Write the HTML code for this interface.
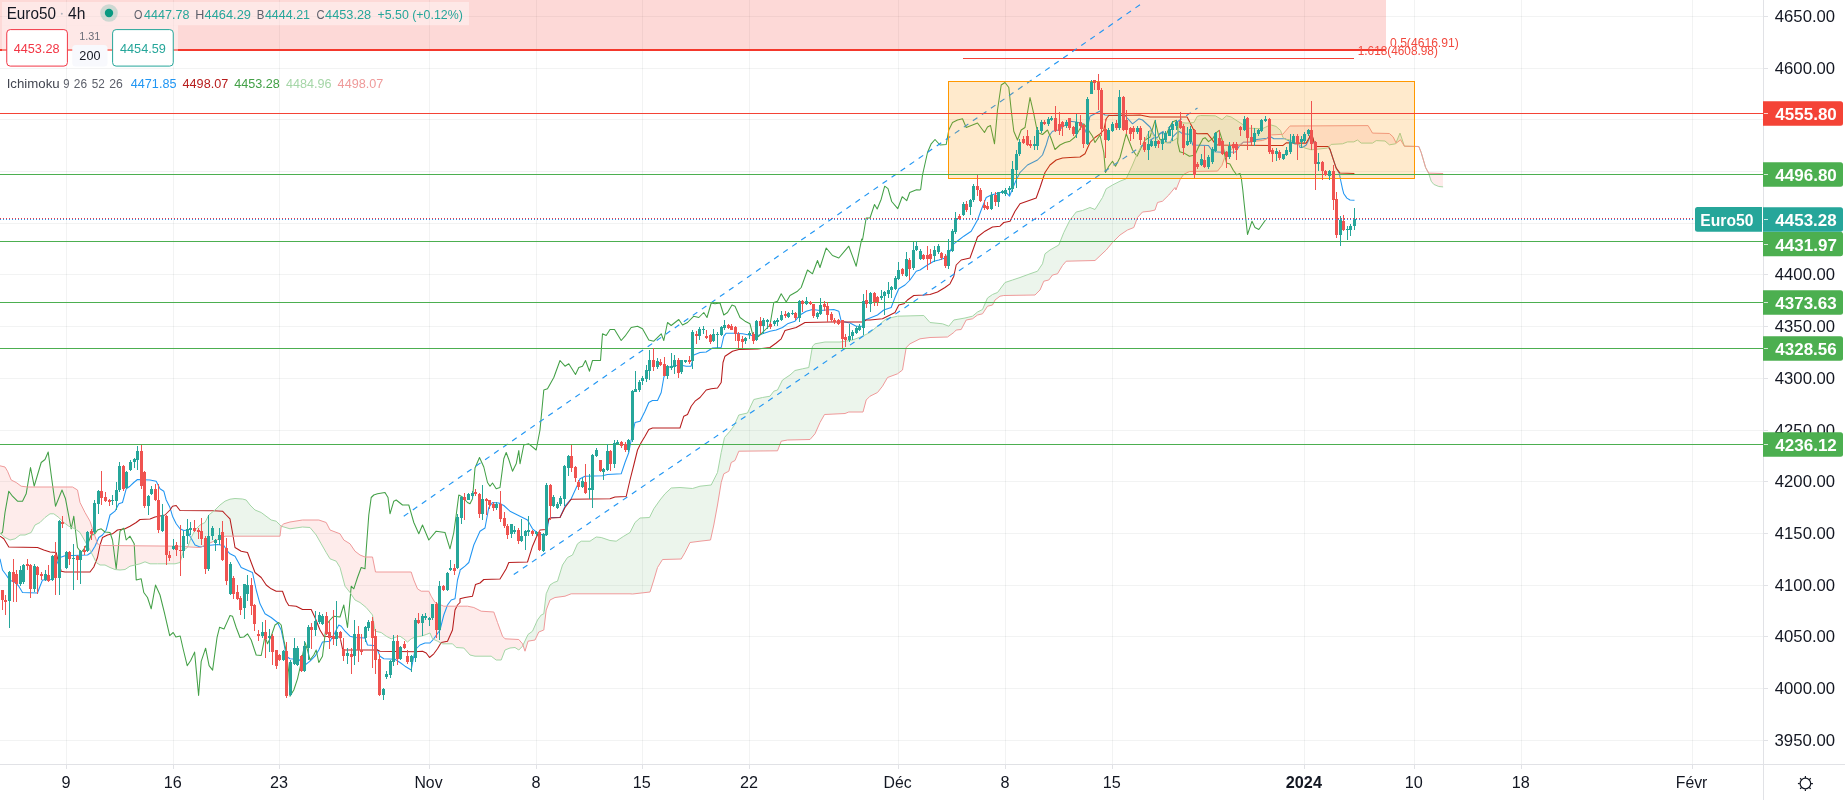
<!DOCTYPE html><html><head><meta charset="utf-8"><style>html,body{margin:0;padding:0;background:#fff}svg{display:block}</style></head><body><svg width="1845" height="800" viewBox="0 0 1845 800" font-family="'Liberation Sans', sans-serif" shape-rendering="auto" style="will-change:transform">
<rect width="1845" height="800" fill="#fff"/>
<rect x="66" y="0" width="1" height="764.5" fill="rgba(42,46,57,0.06)"/>
<rect x="173" y="0" width="1" height="764.5" fill="rgba(42,46,57,0.06)"/>
<rect x="279" y="0" width="1" height="764.5" fill="rgba(42,46,57,0.06)"/>
<rect x="429" y="0" width="1" height="764.5" fill="rgba(42,46,57,0.06)"/>
<rect x="536" y="0" width="1" height="764.5" fill="rgba(42,46,57,0.06)"/>
<rect x="642" y="0" width="1" height="764.5" fill="rgba(42,46,57,0.06)"/>
<rect x="749" y="0" width="1" height="764.5" fill="rgba(42,46,57,0.06)"/>
<rect x="898" y="0" width="1" height="764.5" fill="rgba(42,46,57,0.06)"/>
<rect x="1005" y="0" width="1" height="764.5" fill="rgba(42,46,57,0.06)"/>
<rect x="1112" y="0" width="1" height="764.5" fill="rgba(42,46,57,0.06)"/>
<rect x="1304" y="0" width="1" height="764.5" fill="rgba(42,46,57,0.06)"/>
<rect x="1414" y="0" width="1" height="764.5" fill="rgba(42,46,57,0.06)"/>
<rect x="1521" y="0" width="1" height="764.5" fill="rgba(42,46,57,0.06)"/>
<rect x="1692" y="0" width="1" height="764.5" fill="rgba(42,46,57,0.06)"/>
<rect x="0" y="740" width="1763.5" height="1" fill="rgba(42,46,57,0.06)"/>
<rect x="0" y="688" width="1763.5" height="1" fill="rgba(42,46,57,0.06)"/>
<rect x="0" y="636" width="1763.5" height="1" fill="rgba(42,46,57,0.06)"/>
<rect x="0" y="585" width="1763.5" height="1" fill="rgba(42,46,57,0.06)"/>
<rect x="0" y="533" width="1763.5" height="1" fill="rgba(42,46,57,0.06)"/>
<rect x="0" y="481" width="1763.5" height="1" fill="rgba(42,46,57,0.06)"/>
<rect x="0" y="430" width="1763.5" height="1" fill="rgba(42,46,57,0.06)"/>
<rect x="0" y="378" width="1763.5" height="1" fill="rgba(42,46,57,0.06)"/>
<rect x="0" y="326" width="1763.5" height="1" fill="rgba(42,46,57,0.06)"/>
<rect x="0" y="274" width="1763.5" height="1" fill="rgba(42,46,57,0.06)"/>
<rect x="0" y="223" width="1763.5" height="1" fill="rgba(42,46,57,0.06)"/>
<rect x="0" y="171" width="1763.5" height="1" fill="rgba(42,46,57,0.06)"/>
<rect x="0" y="119" width="1763.5" height="1" fill="rgba(42,46,57,0.06)"/>
<rect x="0" y="68" width="1763.5" height="1" fill="rgba(42,46,57,0.06)"/>
<rect x="0" y="16" width="1763.5" height="1" fill="rgba(42,46,57,0.06)"/>
<rect x="0" y="0" width="1386" height="49.5" fill="rgba(244,67,54,0.2)"/>
<rect x="0" y="49" width="1386" height="2" fill="#f4382c"/>
<rect x="963" y="58" width="391" height="1" fill="#f44336"/>
<text x="1357.71" y="54.90" font-size="12.2" fill="#f2493e" font-weight="normal" textLength="80.14" lengthAdjust="spacingAndGlyphs">1.618(4608.98)</text>
<text x="1390.02" y="46.70" font-size="12.2" fill="#f2493e" font-weight="normal" textLength="68.76" lengthAdjust="spacingAndGlyphs">0.5(4616.91)</text>
<path d="M0.0 533.2 L1.0 534.1 L2.0 535.0 L3.0 535.8 L4.0 536.6 L5.0 537.5 L6.0 538.0 L7.0 538.5 L8.0 539.0 L9.0 539.5 L10.0 540.0 L11.0 539.8 L12.0 539.5 L13.0 539.2 L14.0 539.0 L15.0 538.8 L16.0 538.0 L17.0 537.2 L18.0 536.5 L19.0 535.8 L20.0 535.0 L21.0 535.0 L22.0 535.0 L23.0 535.0 L24.0 535.0 L25.0 535.0 L26.0 534.6 L27.0 534.2 L28.0 533.8 L29.0 533.4 L30.0 533.0 L31.0 532.6 L32.0 531.0 L33.0 529.0 L34.0 527.0 L35.0 525.0 L36.0 524.5 L37.0 524.0 L38.0 523.5 L39.0 523.0 L40.0 522.5 L41.0 521.5 L42.0 520.5 L43.0 519.5 L44.0 518.5 L45.0 517.5 L46.0 516.8 L47.0 516.0 L48.0 515.2 L49.0 514.5 L50.0 513.8 L51.0 513.8 L52.0 513.8 L53.0 513.8 L54.0 513.9 L55.0 514.7 L56.0 515.4 L57.0 516.2 L58.0 516.9 L59.0 517.8 L60.0 518.8 L61.0 519.8 L62.0 520.8 L63.0 521.8 L64.0 522.7 L65.0 523.4 L66.0 524.2 L67.0 524.9 L68.0 525.7 L69.0 526.4 L70.0 526.8 L71.0 527.1 L72.0 527.5 L73.0 528.0 L74.0 528.4 L75.0 528.8 L76.0 529.5 L77.0 530.2 L78.0 531.0 L79.0 531.8 L80.0 532.5 L81.0 534.2 L82.0 536.0 L83.0 537.8 L84.0 539.5 L85.0 541.2 L86.0 543.0 L87.0 544.8 L88.0 546.5 L89.0 548.2 L90.0 550.0 L91.0 552.0 L92.0 554.0 L93.0 556.0 L94.0 558.0 L95.0 560.0 L96.0 562.0 L97.0 563.0 L98.0 563.7 L99.0 564.3 L100.0 565.0 L101.0 565.0 L102.0 565.0 L103.0 565.0 L104.0 565.0 L105.0 565.0 L106.0 565.5 L107.0 566.0 L108.0 566.5 L109.0 567.0 L110.0 567.5 L111.0 567.9 L112.0 568.3 L113.0 568.7 L114.0 569.1 L115.0 569.5 L116.0 569.6 L117.0 569.7 L118.0 569.8 L119.0 569.9 L120.0 570.0 L121.0 569.9 L122.0 569.8 L123.0 569.7 L124.0 569.6 L125.0 569.5 L126.0 568.9 L127.0 568.2 L128.0 567.5 L129.0 566.9 L130.0 566.2 L131.0 566.0 L132.0 565.8 L133.0 565.5 L134.0 565.2 L135.0 565.0 L136.0 564.8 L137.0 564.5 L138.0 564.2 L139.0 564.0 L140.0 563.8 L141.0 563.4 L142.0 563.0 L143.0 562.5 L144.0 562.1 L145.0 561.8 L146.0 562.1 L147.0 562.5 L148.0 563.0 L149.0 563.4 L150.0 563.8 L151.0 563.8 L152.0 563.8 L153.0 563.8 L154.0 563.8 L155.0 563.8 L156.0 563.8 L157.0 563.8 L158.0 563.8 L159.0 563.8 L160.0 563.8 L161.0 563.8 L162.0 563.8 L163.0 563.8 L164.0 563.8 L165.0 563.8 L166.0 563.8 L167.0 563.8 L168.0 563.8 L169.0 563.8 L170.0 563.8 L171.0 563.8 L172.0 563.8 L173.0 563.8 L174.0 563.8 L175.0 563.8 L176.0 563.5 L177.0 563.2 L178.0 563.0 L179.0 562.8 L180.0 562.5 L181.0 559.2 L182.0 555.8 L183.0 552.5 L184.0 549.8 L185.0 549.2 L186.0 548.5 L187.0 547.8 L188.0 546.2 L188.0 546.9 L187.0 546.8 L186.0 546.7 L185.0 546.6 L184.0 546.5 L183.0 546.5 L182.0 546.4 L181.0 546.3 L180.0 546.2 L179.0 546.2 L178.0 546.2 L177.0 546.2 L176.0 546.2 L175.0 546.2 L174.0 546.2 L173.0 546.2 L172.0 546.2 L171.0 546.2 L170.0 546.2 L169.0 546.1 L168.0 546.1 L167.0 546.1 L166.0 546.1 L165.0 546.1 L164.0 546.1 L163.0 546.1 L162.0 546.1 L161.0 546.1 L160.0 546.1 L159.0 546.0 L158.0 546.0 L157.0 546.0 L156.0 546.0 L155.0 546.0 L154.0 546.0 L153.0 546.0 L152.0 546.0 L151.0 546.0 L150.0 546.0 L149.0 546.0 L148.0 545.9 L147.0 545.9 L146.0 545.9 L145.0 545.9 L144.0 545.9 L143.0 545.9 L142.0 545.9 L141.0 545.9 L140.0 545.9 L139.0 545.9 L138.0 545.8 L137.0 545.8 L136.0 545.8 L135.0 545.8 L134.0 545.8 L133.0 545.8 L132.0 545.8 L131.0 545.8 L130.0 545.8 L129.0 545.8 L128.0 545.7 L127.0 545.7 L126.0 545.7 L125.0 545.7 L124.0 545.7 L123.0 545.7 L122.0 545.7 L121.0 545.7 L120.0 545.7 L119.0 545.7 L118.0 545.6 L117.0 545.6 L116.0 545.6 L115.0 545.6 L114.0 545.6 L113.0 545.6 L112.0 545.6 L111.0 545.6 L110.0 545.6 L109.0 545.6 L108.0 545.6 L107.0 545.5 L106.0 545.5 L105.0 545.5 L104.0 545.5 L103.0 545.5 L102.0 545.3 L101.0 545.0 L100.0 544.6 L99.0 544.3 L98.0 543.9 L97.0 542.2 L96.0 539.2 L95.0 536.2 L94.0 533.2 L93.0 530.2 L92.0 527.2 L91.0 524.2 L90.0 521.2 L89.0 519.5 L88.0 517.8 L87.0 516.0 L86.0 514.2 L85.0 512.5 L84.0 510.5 L83.0 508.5 L82.0 506.5 L81.0 504.5 L80.0 502.5 L79.0 497.5 L78.0 492.5 L77.0 489.7 L76.0 489.1 L75.0 488.5 L74.0 487.9 L73.0 487.3 L72.0 487.0 L71.0 487.0 L70.0 487.0 L69.0 487.0 L68.0 487.0 L67.0 487.0 L66.0 487.0 L65.0 487.0 L64.0 487.0 L63.0 487.0 L62.0 487.0 L61.0 487.0 L60.0 487.0 L59.0 487.0 L58.0 487.0 L57.0 487.0 L56.0 487.0 L55.0 487.0 L54.0 487.0 L53.0 487.0 L52.0 487.0 L51.0 487.0 L50.0 487.0 L49.0 487.0 L48.0 487.0 L47.0 487.0 L46.0 487.0 L45.0 487.0 L44.0 487.0 L43.0 487.0 L42.0 487.0 L41.0 487.0 L40.0 487.0 L39.0 487.0 L38.0 487.0 L37.0 487.0 L36.0 487.0 L35.0 487.0 L34.0 487.0 L33.0 487.0 L32.0 487.0 L31.0 487.0 L30.0 487.0 L29.0 487.0 L28.0 487.0 L27.0 486.9 L26.0 486.8 L25.0 486.7 L24.0 486.6 L23.0 486.5 L22.0 486.3 L21.0 486.1 L20.0 485.3 L19.0 484.6 L18.0 483.8 L17.0 483.1 L16.0 482.4 L15.0 481.9 L14.0 481.4 L13.0 480.9 L12.0 480.4 L11.0 479.4 L10.0 477.1 L9.0 474.8 L8.0 472.4 L7.0 470.4 L6.0 468.7 L5.0 467.0 L4.0 466.8 L3.0 466.5 L2.0 466.2 L1.0 466.0 L0.0 465.8Z" fill="rgba(244,67,54,0.10)"/>
<path d="M188.0 546.2 L189.0 543.5 L190.0 540.8 L191.0 538.2 L192.0 536.0 L193.0 534.0 L194.0 532.0 L195.0 530.0 L196.0 529.0 L197.0 528.0 L198.0 527.0 L199.0 526.0 L200.0 525.0 L201.0 524.5 L202.0 524.0 L203.0 523.5 L204.0 523.0 L205.0 522.5 L206.0 520.5 L207.0 518.5 L208.0 516.5 L209.0 514.8 L210.0 514.0 L211.0 513.2 L212.0 512.4 L213.0 511.6 L214.0 510.8 L215.0 510.0 L216.0 509.0 L217.0 508.0 L218.0 507.0 L219.0 506.0 L220.0 505.0 L221.0 504.2 L222.0 503.5 L223.0 502.8 L224.0 502.0 L225.0 501.2 L226.0 500.9 L227.0 500.4 L228.0 500.1 L229.0 499.6 L230.0 499.2 L231.0 499.1 L232.0 498.9 L233.0 498.8 L234.0 498.6 L235.0 498.5 L236.0 498.6 L237.0 498.6 L238.0 498.7 L239.0 498.8 L240.0 498.8 L241.0 498.9 L242.0 499.0 L243.0 499.1 L244.0 499.4 L245.0 499.7 L246.0 499.9 L247.0 501.0 L248.0 502.3 L249.0 503.7 L250.0 505.0 L251.0 506.0 L252.0 507.0 L253.0 508.0 L254.0 509.0 L255.0 510.0 L256.0 510.4 L257.0 510.8 L258.0 511.2 L259.0 511.6 L260.0 512.0 L261.0 512.4 L262.0 513.1 L263.0 513.8 L264.0 514.6 L265.0 515.3 L266.0 516.1 L267.0 516.8 L268.0 517.6 L269.0 518.3 L270.0 519.1 L271.0 519.8 L272.0 520.2 L273.0 520.4 L274.0 520.7 L275.0 520.9 L276.0 521.2 L277.0 522.0 L278.0 523.0 L279.0 524.0 L280.0 525.0 L281.0 526.0 L282.0 526.5 L282.0 525.5 L281.0 528.2 L280.0 536.2 L279.0 536.2 L278.0 536.2 L277.0 536.2 L276.0 536.2 L275.0 536.2 L274.0 536.2 L273.0 536.2 L272.0 536.2 L271.0 536.2 L270.0 536.2 L269.0 536.2 L268.0 536.2 L267.0 536.2 L266.0 536.2 L265.0 536.2 L264.0 536.2 L263.0 536.2 L262.0 536.2 L261.0 536.2 L260.0 536.2 L259.0 536.2 L258.0 536.2 L257.0 536.2 L256.0 536.2 L255.0 536.2 L254.0 536.2 L253.0 536.2 L252.0 536.2 L251.0 536.2 L250.0 536.2 L249.0 536.2 L248.0 536.2 L247.0 536.2 L246.0 536.2 L245.0 536.2 L244.0 536.2 L243.0 536.2 L242.0 536.2 L241.0 536.2 L240.0 536.2 L239.0 536.2 L238.0 536.2 L237.0 536.2 L236.0 536.2 L235.0 536.2 L234.0 536.2 L233.0 536.2 L232.0 536.2 L231.0 536.2 L230.0 536.2 L229.0 536.2 L228.0 536.2 L227.0 536.2 L226.0 536.2 L225.0 536.2 L224.0 536.7 L223.0 537.1 L222.0 537.6 L221.0 538.0 L220.0 538.5 L219.0 539.0 L218.0 539.4 L217.0 539.9 L216.0 540.3 L215.0 540.8 L214.0 541.2 L213.0 541.6 L212.0 542.1 L211.0 542.5 L210.0 543.0 L209.0 543.5 L208.0 543.9 L207.0 544.4 L206.0 544.8 L205.0 545.2 L204.0 545.7 L203.0 546.1 L202.0 546.6 L201.0 547.0 L200.0 547.5 L199.0 547.5 L198.0 547.4 L197.0 547.4 L196.0 547.3 L195.0 547.2 L194.0 547.2 L193.0 547.1 L192.0 547.1 L191.0 547.0 L190.0 547.0 L189.0 546.9 L188.0 546.9Z" fill="rgba(67,160,71,0.10)"/>
<path d="M282.0 526.5 L283.0 526.8 L284.0 527.0 L285.0 527.3 L286.0 527.6 L287.0 527.9 L288.0 528.2 L289.0 528.5 L290.0 528.8 L291.0 528.6 L292.0 528.5 L293.0 528.3 L294.0 528.2 L295.0 528.0 L296.0 527.9 L297.0 527.8 L298.0 527.6 L299.0 527.5 L300.0 527.4 L301.0 527.2 L302.0 527.1 L303.0 527.0 L304.0 527.1 L305.0 527.2 L306.0 527.2 L307.0 527.3 L308.0 527.4 L309.0 527.4 L310.0 527.5 L311.0 528.7 L312.0 529.9 L313.0 531.1 L314.0 532.3 L315.0 533.5 L316.0 534.7 L317.0 536.3 L318.0 538.1 L319.0 539.8 L320.0 541.6 L321.0 543.3 L322.0 545.1 L323.0 546.8 L324.0 548.6 L325.0 550.3 L326.0 552.1 L327.0 553.8 L328.0 555.4 L329.0 557.1 L330.0 558.8 L331.0 559.1 L332.0 559.5 L333.0 560.0 L334.0 560.4 L335.0 560.8 L336.0 561.1 L337.0 562.5 L338.0 564.2 L339.0 565.8 L340.0 567.5 L341.0 571.2 L342.0 575.0 L343.0 578.8 L344.0 582.5 L345.0 586.2 L346.0 587.5 L347.0 588.8 L348.0 590.0 L349.0 591.2 L350.0 592.5 L351.0 594.0 L352.0 595.5 L353.0 597.0 L354.0 598.5 L355.0 600.0 L356.0 600.5 L357.0 601.0 L358.0 601.5 L359.0 602.0 L360.0 602.5 L361.0 603.3 L362.0 604.1 L363.0 604.9 L364.0 605.7 L365.0 606.5 L366.0 607.3 L367.0 608.4 L368.0 609.6 L369.0 610.8 L370.0 612.0 L371.0 613.2 L372.0 614.4 L373.0 618.2 L374.0 624.8 L375.0 631.2 L376.0 631.5 L377.0 631.6 L378.0 631.9 L379.0 632.0 L380.0 632.2 L381.0 632.5 L382.0 633.1 L383.0 633.8 L384.0 634.6 L385.0 635.3 L386.0 636.1 L387.0 636.6 L388.0 637.1 L389.0 637.6 L390.0 638.1 L391.0 638.6 L392.0 638.5 L393.0 638.1 L394.0 637.8 L395.0 637.4 L396.0 637.1 L397.0 636.9 L398.0 636.6 L399.0 636.5 L400.0 636.2 L401.0 636.9 L402.0 637.6 L403.0 638.2 L404.0 639.0 L405.0 639.8 L406.0 640.7 L407.0 641.6 L408.0 641.6 L409.0 640.7 L410.0 639.8 L411.0 639.0 L412.0 638.4 L413.0 637.9 L414.0 637.5 L415.0 637.0 L416.0 636.9 L417.0 636.8 L418.0 636.6 L419.0 636.5 L420.0 636.4 L421.0 636.3 L422.0 636.0 L423.0 635.6 L424.0 635.3 L425.0 634.9 L426.0 634.6 L427.0 634.2 L428.0 633.8 L429.0 633.4 L430.0 633.0 L431.0 635.3 L432.0 637.6 L433.0 639.0 L434.0 639.5 L435.0 640.0 L436.0 640.5 L437.0 641.0 L438.0 641.5 L439.0 642.0 L440.0 642.5 L441.0 643.0 L442.0 643.5 L443.0 643.8 L444.0 643.8 L445.0 643.8 L446.0 643.8 L447.0 643.8 L448.0 643.8 L449.0 643.8 L450.0 643.8 L451.0 643.8 L452.0 643.8 L453.0 644.2 L454.0 645.2 L455.0 646.2 L456.0 647.2 L457.0 647.5 L458.0 647.6 L459.0 647.7 L460.0 647.8 L461.0 647.8 L462.0 647.9 L463.0 648.0 L464.0 648.3 L465.0 649.4 L466.0 650.5 L467.0 651.6 L468.0 652.8 L469.0 653.9 L470.0 655.0 L471.0 655.2 L472.0 655.5 L473.0 655.8 L474.0 656.0 L475.0 656.2 L476.0 656.2 L477.0 656.2 L478.0 656.2 L479.0 656.2 L480.0 656.2 L481.0 656.2 L482.0 656.2 L483.0 656.2 L484.0 656.2 L485.0 656.2 L486.0 656.2 L487.0 656.2 L488.0 656.2 L489.0 656.2 L490.0 656.2 L491.0 656.2 L492.0 656.8 L493.0 657.6 L494.0 658.3 L495.0 659.1 L496.0 659.8 L497.0 660.0 L498.0 660.0 L499.0 660.0 L500.0 660.0 L501.0 660.0 L502.0 658.0 L503.0 655.3 L504.0 652.7 L505.0 650.0 L506.0 649.6 L507.0 649.2 L508.0 648.8 L509.0 648.4 L510.0 648.0 L511.0 647.9 L512.0 647.8 L513.0 647.7 L514.0 647.6 L515.0 647.5 L516.0 648.2 L517.0 648.8 L518.0 649.5 L519.0 649.8 L520.0 648.8 L521.0 647.8 L522.0 646.8 L523.0 645.2 L524.0 643.0 L524.0 648.2 L523.0 645.2 L522.0 643.2 L521.0 642.0 L520.0 640.9 L519.0 639.8 L518.0 639.5 L517.0 639.4 L516.0 639.4 L515.0 639.3 L514.0 639.2 L513.0 639.2 L512.0 639.1 L511.0 639.1 L510.0 639.0 L509.0 639.0 L508.0 638.9 L507.0 638.9 L506.0 638.8 L505.0 638.8 L504.0 637.8 L503.0 636.8 L502.0 634.9 L501.0 632.1 L500.0 629.4 L499.0 626.6 L498.0 623.9 L497.0 621.1 L496.0 618.3 L495.0 615.5 L494.0 612.7 L493.0 612.0 L492.0 611.9 L491.0 611.8 L490.0 611.8 L489.0 611.7 L488.0 611.7 L487.0 611.6 L486.0 611.5 L485.0 611.5 L484.0 611.4 L483.0 611.4 L482.0 611.3 L481.0 611.1 L480.0 610.6 L479.0 610.1 L478.0 609.6 L477.0 609.1 L476.0 608.6 L475.0 608.1 L474.0 607.6 L473.0 607.4 L472.0 607.1 L471.0 607.0 L470.0 606.8 L469.0 606.5 L468.0 606.4 L467.0 606.2 L466.0 606.2 L465.0 606.2 L464.0 606.2 L463.0 606.2 L462.0 606.2 L461.0 606.2 L460.0 606.2 L459.0 606.2 L458.0 606.2 L457.0 606.2 L456.0 606.2 L455.0 606.2 L454.0 606.2 L453.0 606.2 L452.0 606.2 L451.0 606.2 L450.0 606.2 L449.0 606.2 L448.0 606.2 L447.0 606.2 L446.0 606.2 L445.0 606.2 L444.0 606.2 L443.0 605.9 L442.0 605.5 L441.0 605.1 L440.0 604.6 L439.0 604.2 L438.0 603.8 L437.0 603.4 L436.0 602.9 L435.0 602.5 L434.0 600.8 L433.0 599.2 L432.0 597.5 L431.0 595.8 L430.0 593.8 L429.0 591.8 L428.0 591.2 L427.0 591.2 L426.0 591.2 L425.0 591.2 L424.0 591.2 L423.0 591.2 L422.0 591.2 L421.0 591.1 L420.0 590.4 L419.0 589.8 L418.0 589.1 L417.0 587.6 L416.0 585.2 L415.0 582.9 L414.0 580.6 L413.0 577.6 L412.0 574.4 L411.0 572.0 L410.0 572.0 L409.0 572.0 L408.0 572.0 L407.0 572.0 L406.0 572.0 L405.0 572.0 L404.0 572.0 L403.0 572.0 L402.0 572.0 L401.0 572.0 L400.0 572.0 L399.0 572.0 L398.0 572.0 L397.0 572.0 L396.0 572.0 L395.0 572.0 L394.0 572.0 L393.0 572.0 L392.0 572.0 L391.0 572.0 L390.0 572.0 L389.0 572.0 L388.0 572.0 L387.0 572.0 L386.0 572.0 L385.0 572.0 L384.0 572.0 L383.0 572.0 L382.0 572.0 L381.0 572.0 L380.0 572.0 L379.0 572.0 L378.0 572.0 L377.0 572.0 L376.0 572.0 L375.0 569.5 L374.0 564.5 L373.0 559.5 L372.0 557.0 L371.0 557.0 L370.0 557.0 L369.0 557.0 L368.0 557.0 L367.0 557.0 L366.0 557.0 L365.0 557.0 L364.0 556.6 L363.0 556.2 L362.0 555.8 L361.0 555.4 L360.0 555.0 L359.0 554.2 L358.0 553.5 L357.0 552.8 L356.0 552.0 L355.0 551.2 L354.0 549.8 L353.0 548.2 L352.0 546.8 L351.0 545.2 L350.0 543.8 L349.0 543.1 L348.0 542.5 L347.0 542.0 L346.0 541.4 L345.0 540.8 L344.0 540.1 L343.0 538.8 L342.0 537.1 L341.0 535.4 L340.0 533.8 L339.0 533.4 L338.0 533.0 L337.0 532.6 L336.0 532.2 L335.0 531.9 L334.0 531.5 L333.0 531.1 L332.0 530.8 L331.0 530.4 L330.0 530.0 L329.0 528.0 L328.0 526.0 L327.0 524.0 L326.0 522.4 L325.0 522.1 L324.0 521.8 L323.0 521.4 L322.0 521.1 L321.0 520.8 L320.0 520.4 L319.0 520.1 L318.0 520.0 L317.0 520.0 L316.0 520.0 L315.0 520.0 L314.0 520.0 L313.0 520.0 L312.0 520.0 L311.0 520.0 L310.0 520.0 L309.0 520.0 L308.0 520.0 L307.0 520.0 L306.0 520.0 L305.0 520.0 L304.0 520.0 L303.0 520.0 L302.0 520.1 L301.0 520.2 L300.0 520.4 L299.0 520.6 L298.0 520.7 L297.0 520.9 L296.0 521.0 L295.0 521.2 L294.0 521.4 L293.0 521.5 L292.0 521.7 L291.0 521.8 L290.0 522.0 L289.0 522.3 L288.0 522.6 L287.0 522.8 L286.0 523.1 L285.0 523.4 L284.0 523.7 L283.0 524.5 L282.0 525.5Z" fill="rgba(244,67,54,0.10)"/>
<path d="M524.0 643.0 L525.0 640.9 L526.0 638.8 L527.0 636.6 L528.0 634.5 L529.0 633.8 L530.0 633.1 L531.0 632.3 L532.0 631.6 L533.0 630.1 L534.0 627.9 L535.0 625.6 L536.0 623.4 L537.0 621.1 L538.0 619.3 L539.0 618.0 L540.0 616.7 L541.0 615.3 L542.0 614.6 L543.0 614.1 L544.0 611.8 L545.0 603.8 L546.0 595.8 L547.0 592.0 L548.0 589.7 L549.0 587.3 L550.0 585.0 L551.0 584.3 L552.0 583.7 L553.0 583.0 L554.0 582.4 L555.0 582.1 L556.0 581.8 L557.0 581.4 L558.0 579.6 L559.0 576.4 L560.0 573.1 L561.0 569.9 L562.0 566.6 L563.0 564.2 L564.0 562.8 L565.0 561.2 L566.0 559.8 L567.0 558.2 L568.0 557.2 L569.0 556.8 L570.0 556.2 L571.0 555.8 L572.0 555.2 L573.0 553.9 L574.0 551.6 L575.0 549.4 L576.0 547.1 L577.0 544.9 L578.0 543.4 L579.0 542.8 L580.0 542.1 L581.0 541.4 L582.0 541.2 L583.0 541.2 L584.0 541.2 L585.0 541.2 L586.0 541.2 L587.0 541.2 L588.0 541.2 L589.0 541.2 L590.0 541.2 L591.0 540.6 L592.0 539.9 L593.0 539.2 L594.0 538.5 L595.0 537.9 L596.0 537.2 L597.0 537.1 L598.0 537.2 L599.0 537.3 L600.0 537.4 L601.0 537.5 L602.0 537.8 L603.0 538.1 L604.0 538.4 L605.0 538.8 L606.0 539.1 L607.0 539.5 L608.0 539.8 L609.0 540.2 L610.0 540.5 L611.0 540.6 L612.0 540.7 L613.0 540.9 L614.0 541.0 L615.0 541.1 L616.0 541.2 L617.0 540.8 L618.0 540.1 L619.0 539.4 L620.0 538.8 L621.0 538.1 L622.0 537.4 L623.0 536.8 L624.0 536.1 L625.0 535.5 L626.0 534.9 L627.0 534.3 L628.0 533.7 L629.0 533.1 L630.0 532.5 L631.0 530.5 L632.0 528.5 L633.0 526.5 L634.0 524.5 L635.0 522.5 L636.0 521.6 L637.0 520.7 L638.0 519.8 L639.0 518.9 L640.0 518.0 L641.0 517.9 L642.0 517.9 L643.0 517.8 L644.0 517.8 L645.0 517.7 L646.0 517.7 L647.0 517.6 L648.0 517.6 L649.0 517.5 L650.0 516.5 L651.0 514.4 L652.0 512.4 L653.0 510.3 L654.0 508.4 L655.0 507.0 L656.0 505.6 L657.0 504.2 L658.0 502.8 L659.0 501.4 L660.0 500.0 L661.0 498.8 L662.0 497.5 L663.0 496.2 L664.0 495.0 L665.0 493.8 L666.0 492.8 L667.0 491.9 L668.0 491.0 L669.0 490.1 L670.0 489.1 L671.0 488.2 L672.0 488.0 L673.0 487.9 L674.0 487.8 L675.0 487.8 L676.0 487.7 L677.0 487.7 L678.0 487.6 L679.0 487.6 L680.0 487.5 L681.0 487.6 L682.0 487.7 L683.0 487.7 L684.0 487.8 L685.0 487.9 L686.0 488.0 L687.0 488.1 L688.0 488.1 L689.0 488.2 L690.0 488.3 L691.0 488.4 L692.0 488.5 L693.0 488.4 L694.0 488.1 L695.0 487.8 L696.0 487.4 L697.0 487.1 L698.0 486.9 L699.0 486.6 L700.0 486.2 L701.0 486.1 L702.0 486.0 L703.0 485.9 L704.0 485.8 L705.0 485.7 L706.0 485.6 L707.0 485.5 L708.0 485.4 L709.0 485.2 L710.0 485.1 L711.0 485.0 L712.0 483.5 L713.0 481.5 L714.0 479.5 L715.0 477.5 L716.0 475.5 L717.0 473.5 L718.0 469.8 L719.0 464.5 L720.0 459.2 L721.0 453.8 L722.0 449.0 L723.0 444.4 L724.0 439.8 L725.0 436.9 L726.0 435.8 L727.0 434.7 L728.0 433.5 L729.0 432.4 L730.0 431.2 L731.0 429.9 L732.0 428.6 L733.0 427.2 L734.0 425.7 L735.0 423.4 L736.0 421.2 L737.0 418.9 L738.0 416.7 L739.0 414.9 L740.0 414.7 L741.0 414.5 L742.0 414.3 L743.0 414.0 L744.0 413.8 L745.0 413.6 L746.0 413.3 L747.0 413.1 L748.0 411.9 L749.0 409.8 L750.0 407.6 L751.0 405.4 L752.0 403.3 L753.0 401.1 L754.0 399.4 L755.0 399.2 L756.0 399.0 L757.0 398.8 L758.0 398.5 L759.0 398.3 L760.0 398.1 L761.0 397.8 L762.0 397.6 L763.0 397.4 L764.0 397.2 L765.0 397.1 L766.0 396.9 L767.0 396.8 L768.0 396.6 L769.0 396.4 L770.0 396.2 L771.0 394.9 L772.0 393.6 L773.0 392.2 L774.0 391.2 L775.0 390.8 L776.0 390.5 L777.0 390.2 L778.0 389.0 L779.0 387.0 L780.0 385.0 L781.0 383.0 L782.0 381.0 L783.0 379.7 L784.0 379.0 L785.0 378.3 L786.0 377.7 L787.0 377.0 L788.0 376.3 L789.0 375.7 L790.0 375.0 L791.0 374.1 L792.0 373.2 L793.0 372.3 L794.0 371.4 L795.0 370.5 L796.0 370.3 L797.0 370.0 L798.0 369.8 L799.0 369.6 L800.0 369.3 L801.0 369.1 L802.0 368.9 L803.0 368.6 L804.0 368.4 L805.0 368.2 L806.0 368.1 L807.0 367.9 L808.0 367.6 L809.0 366.1 L810.0 360.4 L811.0 354.8 L812.0 349.1 L813.0 345.8 L814.0 344.8 L815.0 343.8 L816.0 343.6 L817.0 343.4 L818.0 343.2 L819.0 343.1 L820.0 342.9 L821.0 342.7 L822.0 342.5 L823.0 342.4 L824.0 342.2 L825.0 342.0 L826.0 342.0 L827.0 342.0 L828.0 342.0 L829.0 342.0 L830.0 342.0 L831.0 342.0 L832.0 342.0 L833.0 342.0 L834.0 342.0 L835.0 342.0 L836.0 342.0 L837.0 342.0 L838.0 342.0 L839.0 342.0 L840.0 342.0 L841.0 341.8 L842.0 341.7 L843.0 341.5 L844.0 341.4 L845.0 341.2 L846.0 341.0 L847.0 340.9 L848.0 340.7 L849.0 340.6 L850.0 340.4 L851.0 340.2 L852.0 340.1 L853.0 339.8 L854.0 339.4 L855.0 339.1 L856.0 338.7 L857.0 338.3 L858.0 337.9 L859.0 337.6 L860.0 337.2 L861.0 336.8 L862.0 336.4 L863.0 336.0 L864.0 335.5 L865.0 335.0 L866.0 334.5 L867.0 334.0 L868.0 333.5 L869.0 333.0 L870.0 332.5 L871.0 331.7 L872.0 330.8 L873.0 330.0 L874.0 329.2 L875.0 328.3 L876.0 327.5 L877.0 326.7 L878.0 325.8 L879.0 325.0 L880.0 324.1 L881.0 323.2 L882.0 322.4 L883.0 321.5 L884.0 320.7 L885.0 319.8 L886.0 319.0 L887.0 318.6 L888.0 318.4 L889.0 318.1 L890.0 317.9 L891.0 317.7 L892.0 317.5 L893.0 317.2 L894.0 317.0 L895.0 316.8 L896.0 316.6 L897.0 316.4 L898.0 316.2 L899.0 316.2 L900.0 316.2 L901.0 316.1 L902.0 316.1 L903.0 316.1 L904.0 316.1 L905.0 316.0 L906.0 316.0 L907.0 316.0 L908.0 315.9 L909.0 315.9 L910.0 315.9 L911.0 315.9 L912.0 315.8 L913.0 315.8 L914.0 315.8 L915.0 315.8 L916.0 315.7 L917.0 315.7 L918.0 315.7 L919.0 315.6 L920.0 315.6 L921.0 315.6 L922.0 315.6 L923.0 315.5 L924.0 315.8 L925.0 316.9 L926.0 318.0 L927.0 319.1 L928.0 320.3 L929.0 321.4 L930.0 322.5 L931.0 322.6 L932.0 322.7 L933.0 322.8 L934.0 322.9 L935.0 323.0 L936.0 323.1 L937.0 323.2 L938.0 323.3 L939.0 323.4 L940.0 323.5 L941.0 323.6 L942.0 323.7 L943.0 323.9 L944.0 324.4 L945.0 324.8 L946.0 325.1 L947.0 325.6 L948.0 325.9 L949.0 325.9 L950.0 324.7 L951.0 323.4 L952.0 322.2 L953.0 320.9 L954.0 320.0 L955.0 319.8 L956.0 319.6 L957.0 319.4 L958.0 319.2 L959.0 319.1 L960.0 318.9 L961.0 318.7 L962.0 318.5 L963.0 318.4 L964.0 318.2 L965.0 318.0 L966.0 317.8 L967.0 317.5 L968.0 317.3 L969.0 317.1 L970.0 316.8 L971.0 316.6 L972.0 316.4 L973.0 315.8 L974.0 315.0 L975.0 314.1 L976.0 313.3 L977.0 312.4 L978.0 311.8 L979.0 311.2 L980.0 310.8 L981.0 310.2 L982.0 309.8 L983.0 308.4 L984.0 306.1 L985.0 303.8 L986.0 301.4 L987.0 299.1 L988.0 297.6 L989.0 296.9 L990.0 296.2 L991.0 295.6 L992.0 294.9 L993.0 294.3 L994.0 293.9 L995.0 293.5 L996.0 293.1 L997.0 292.7 L998.0 291.8 L999.0 290.5 L1000.0 289.2 L1001.0 287.8 L1002.0 286.5 L1003.0 285.2 L1004.0 283.8 L1005.0 282.5 L1006.0 282.2 L1007.0 281.8 L1008.0 281.5 L1009.0 281.2 L1010.0 280.8 L1011.0 280.5 L1012.0 280.2 L1013.0 279.8 L1014.0 279.5 L1015.0 279.2 L1016.0 278.8 L1017.0 278.5 L1018.0 278.2 L1019.0 277.8 L1020.0 277.5 L1021.0 277.1 L1022.0 276.8 L1023.0 276.4 L1024.0 276.0 L1025.0 275.6 L1026.0 275.2 L1027.0 274.9 L1028.0 274.5 L1029.0 274.1 L1030.0 273.8 L1031.0 273.4 L1032.0 273.1 L1033.0 272.8 L1034.0 272.4 L1035.0 272.1 L1036.0 271.8 L1037.0 271.4 L1038.0 270.5 L1039.0 269.0 L1040.0 267.5 L1041.0 266.0 L1042.0 264.5 L1043.0 261.8 L1044.0 257.8 L1045.0 253.8 L1046.0 253.0 L1047.0 252.2 L1048.0 251.5 L1049.0 250.8 L1050.0 250.0 L1051.0 249.4 L1052.0 248.9 L1053.0 248.3 L1054.0 247.7 L1055.0 247.1 L1056.0 246.6 L1057.0 246.0 L1058.0 245.4 L1059.0 244.4 L1060.0 241.9 L1061.0 239.4 L1062.0 236.9 L1063.0 234.4 L1064.0 232.0 L1065.0 230.0 L1066.0 228.0 L1067.0 226.0 L1068.0 224.0 L1069.0 222.0 L1070.0 220.0 L1071.0 218.7 L1072.0 217.4 L1073.0 216.2 L1074.0 214.9 L1075.0 213.6 L1076.0 212.3 L1077.0 211.8 L1078.0 211.6 L1079.0 211.3 L1080.0 211.1 L1081.0 210.9 L1082.0 210.6 L1083.0 210.3 L1084.0 209.9 L1085.0 209.5 L1086.0 209.1 L1087.0 208.7 L1088.0 208.3 L1089.0 207.9 L1090.0 207.5 L1091.0 207.9 L1092.0 208.3 L1093.0 208.7 L1094.0 209.1 L1095.0 209.5 L1096.0 207.9 L1097.0 206.3 L1098.0 204.7 L1099.0 203.1 L1100.0 201.5 L1101.0 199.9 L1102.0 198.3 L1103.0 196.3 L1104.0 194.0 L1105.0 191.7 L1106.0 189.3 L1107.0 188.3 L1108.0 187.7 L1109.0 187.1 L1110.0 186.5 L1111.0 185.9 L1112.0 185.3 L1113.0 184.8 L1114.0 184.2 L1115.0 183.8 L1116.0 183.2 L1117.0 182.8 L1118.0 182.2 L1119.0 181.8 L1120.0 181.2 L1121.0 180.8 L1122.0 180.4 L1123.0 180.1 L1124.0 179.7 L1125.0 179.2 L1126.0 178.8 L1127.0 177.1 L1128.0 174.9 L1129.0 172.7 L1130.0 170.5 L1131.0 168.3 L1132.0 166.1 L1133.0 163.8 L1134.0 161.5 L1135.0 159.2 L1136.0 156.8 L1137.0 154.8 L1138.0 152.8 L1139.0 150.8 L1140.0 148.8 L1141.0 147.0 L1142.0 145.2 L1143.0 143.5 L1144.0 141.8 L1145.0 140.0 L1146.0 138.0 L1147.0 136.0 L1148.0 134.0 L1149.0 132.0 L1150.0 130.0 L1151.0 131.6 L1152.0 133.2 L1153.0 134.8 L1154.0 136.3 L1155.0 137.6 L1156.0 138.4 L1157.0 139.2 L1158.0 140.1 L1159.0 140.9 L1160.0 141.8 L1161.0 141.9 L1162.0 142.0 L1163.0 142.1 L1164.0 142.2 L1165.0 142.3 L1166.0 142.4 L1167.0 142.5 L1168.0 142.2 L1169.0 142.0 L1170.0 141.7 L1171.0 141.5 L1172.0 141.2 L1173.0 140.8 L1174.0 140.1 L1175.0 139.5 L1176.0 138.9 L1177.0 138.3 L1178.0 132.3 L1179.0 122.5 L1180.0 122.6 L1181.0 122.7 L1182.0 122.7 L1183.0 122.8 L1184.0 122.9 L1185.0 122.9 L1186.0 123.0 L1187.0 123.1 L1188.0 123.0 L1189.0 122.9 L1190.0 122.8 L1191.0 122.7 L1192.0 122.7 L1193.0 122.6 L1194.0 122.3 L1195.0 120.5 L1196.0 118.6 L1197.0 116.8 L1198.0 116.1 L1199.0 115.9 L1200.0 115.7 L1201.0 115.5 L1202.0 115.5 L1203.0 115.6 L1204.0 115.6 L1205.0 115.6 L1206.0 115.6 L1207.0 115.6 L1208.0 115.6 L1209.0 115.7 L1210.0 115.7 L1211.0 115.7 L1212.0 115.7 L1213.0 115.7 L1214.0 115.7 L1215.0 115.7 L1216.0 116.2 L1217.0 116.8 L1218.0 117.3 L1219.0 117.9 L1220.0 118.5 L1221.0 119.1 L1222.0 119.7 L1223.0 118.8 L1224.0 118.0 L1225.0 117.1 L1226.0 116.2 L1227.0 115.9 L1228.0 116.1 L1229.0 116.4 L1230.0 116.6 L1231.0 116.9 L1232.0 117.5 L1233.0 118.2 L1234.0 118.8 L1235.0 119.5 L1236.0 120.1 L1237.0 120.8 L1238.0 121.4 L1239.0 122.1 L1240.0 122.7 L1241.0 123.4 L1242.0 124.0 L1243.0 125.0 L1244.0 126.2 L1245.0 127.4 L1246.0 128.1 L1247.0 128.2 L1248.0 128.2 L1249.0 128.2 L1250.0 128.3 L1251.0 128.3 L1252.0 128.3 L1253.0 128.4 L1254.0 128.4 L1255.0 128.4 L1256.0 128.5 L1257.0 128.5 L1258.0 128.5 L1259.0 128.6 L1260.0 128.6 L1261.0 128.6 L1262.0 128.7 L1263.0 128.5 L1264.0 128.0 L1265.0 127.5 L1266.0 127.0 L1267.0 126.5 L1268.0 126.0 L1269.0 125.5 L1270.0 125.0 L1271.0 124.9 L1272.0 125.2 L1273.0 125.5 L1274.0 125.8 L1275.0 126.1 L1276.0 126.4 L1277.0 127.3 L1278.0 128.2 L1279.0 129.0 L1280.0 129.9 L1281.0 131.8 L1282.0 134.8 L1282.0 134.4 L1281.0 134.4 L1280.0 134.5 L1279.0 134.5 L1278.0 134.6 L1277.0 134.6 L1276.0 134.7 L1275.0 134.7 L1274.0 134.8 L1273.0 134.8 L1272.0 134.9 L1271.0 135.3 L1270.0 136.2 L1269.0 137.1 L1268.0 138.0 L1267.0 138.8 L1266.0 139.2 L1265.0 139.6 L1264.0 140.0 L1263.0 140.3 L1262.0 140.6 L1261.0 140.6 L1260.0 140.7 L1259.0 140.8 L1258.0 140.9 L1257.0 141.0 L1256.0 141.1 L1255.0 141.2 L1254.0 141.3 L1253.0 141.3 L1252.0 141.4 L1251.0 141.5 L1250.0 141.6 L1249.0 141.7 L1248.0 141.8 L1247.0 141.9 L1246.0 142.0 L1245.0 142.1 L1244.0 142.1 L1243.0 142.5 L1242.0 143.4 L1241.0 144.2 L1240.0 145.0 L1239.0 145.5 L1238.0 146.0 L1237.0 146.5 L1236.0 147.0 L1235.0 147.5 L1234.0 148.0 L1233.0 148.5 L1232.0 149.0 L1231.0 149.5 L1230.0 150.2 L1229.0 150.9 L1228.0 151.5 L1227.0 153.0 L1226.0 155.0 L1225.0 157.0 L1224.0 159.3 L1223.0 162.3 L1222.0 165.3 L1221.0 166.6 L1220.0 167.9 L1219.0 169.2 L1218.0 170.5 L1217.0 171.1 L1216.0 171.1 L1215.0 171.1 L1214.0 171.2 L1213.0 171.2 L1212.0 171.2 L1211.0 171.2 L1210.0 171.2 L1209.0 171.2 L1208.0 171.2 L1207.0 171.2 L1206.0 171.3 L1205.0 171.3 L1204.0 171.3 L1203.0 171.3 L1202.0 171.3 L1201.0 171.3 L1200.0 171.3 L1199.0 171.3 L1198.0 171.3 L1197.0 171.4 L1196.0 171.4 L1195.0 171.4 L1194.0 171.4 L1193.0 171.4 L1192.0 171.4 L1191.0 171.4 L1190.0 171.4 L1189.0 171.6 L1188.0 172.1 L1187.0 172.6 L1186.0 173.1 L1185.0 173.6 L1184.0 174.1 L1183.0 175.3 L1182.0 176.6 L1181.0 177.9 L1180.0 179.7 L1179.0 182.2 L1178.0 184.7 L1177.0 187.2 L1176.0 189.7 L1175.0 187.5 L1174.0 188.7 L1173.0 189.9 L1172.0 191.1 L1171.0 192.3 L1170.0 193.5 L1169.0 194.7 L1168.0 195.8 L1167.0 196.8 L1166.0 197.8 L1165.0 198.8 L1164.0 199.8 L1163.0 200.8 L1162.0 201.4 L1161.0 201.6 L1160.0 201.9 L1159.0 202.1 L1158.0 202.4 L1157.0 204.0 L1156.0 207.0 L1155.0 210.0 L1154.0 210.2 L1153.0 210.5 L1152.0 210.8 L1151.0 211.0 L1150.0 211.2 L1149.0 211.3 L1148.0 211.4 L1147.0 211.6 L1146.0 211.7 L1145.0 211.8 L1144.0 211.8 L1143.0 211.9 L1142.0 212.6 L1141.0 213.7 L1140.0 214.8 L1139.0 215.8 L1138.0 216.9 L1137.0 218.8 L1136.0 221.5 L1135.0 224.2 L1134.0 226.8 L1133.0 227.8 L1132.0 228.2 L1131.0 228.6 L1130.0 229.0 L1129.0 229.4 L1128.0 229.8 L1127.0 230.3 L1126.0 231.0 L1125.0 231.7 L1124.0 232.3 L1123.0 233.0 L1122.0 233.7 L1121.0 234.3 L1120.0 235.0 L1119.0 236.0 L1118.0 237.0 L1117.0 238.0 L1116.0 239.0 L1115.0 240.0 L1114.0 241.0 L1113.0 242.0 L1112.0 243.1 L1111.0 244.3 L1110.0 245.5 L1109.0 246.7 L1108.0 247.9 L1107.0 249.1 L1106.0 250.2 L1105.0 251.2 L1104.0 252.1 L1103.0 253.0 L1102.0 254.0 L1101.0 254.9 L1100.0 255.8 L1099.0 256.8 L1098.0 257.7 L1097.0 258.6 L1096.0 259.6 L1095.0 260.5 L1094.0 260.5 L1093.0 260.6 L1092.0 260.6 L1091.0 260.6 L1090.0 260.6 L1089.0 260.7 L1088.0 260.7 L1087.0 260.7 L1086.0 260.7 L1085.0 260.8 L1084.0 260.8 L1083.0 260.8 L1082.0 260.8 L1081.0 260.9 L1080.0 260.9 L1079.0 260.9 L1078.0 260.9 L1077.0 261.0 L1076.0 261.0 L1075.0 261.0 L1074.0 261.0 L1073.0 261.1 L1072.0 261.1 L1071.0 261.1 L1070.0 261.2 L1069.0 261.2 L1068.0 261.2 L1067.0 261.2 L1066.0 261.5 L1065.0 262.7 L1064.0 263.8 L1063.0 264.9 L1062.0 266.3 L1061.0 268.0 L1060.0 269.6 L1059.0 271.3 L1058.0 272.9 L1057.0 273.9 L1056.0 274.1 L1055.0 274.4 L1054.0 274.6 L1053.0 274.9 L1052.0 275.7 L1051.0 277.0 L1050.0 278.3 L1049.0 279.7 L1048.0 280.2 L1047.0 280.4 L1046.0 280.7 L1045.0 280.9 L1044.0 281.2 L1043.0 283.0 L1042.0 285.3 L1041.0 287.7 L1040.0 290.0 L1039.0 291.0 L1038.0 292.0 L1037.0 293.0 L1036.0 294.0 L1035.0 295.0 L1034.0 295.0 L1033.0 295.0 L1032.0 295.0 L1031.0 295.1 L1030.0 295.1 L1029.0 295.1 L1028.0 295.1 L1027.0 295.1 L1026.0 295.1 L1025.0 295.2 L1024.0 295.2 L1023.0 295.2 L1022.0 295.2 L1021.0 295.2 L1020.0 295.2 L1019.0 295.3 L1018.0 295.3 L1017.0 295.3 L1016.0 295.3 L1015.0 295.3 L1014.0 295.3 L1013.0 295.4 L1012.0 295.4 L1011.0 295.4 L1010.0 295.4 L1009.0 295.4 L1008.0 295.4 L1007.0 295.4 L1006.0 295.5 L1005.0 295.5 L1004.0 295.5 L1003.0 295.6 L1002.0 295.9 L1001.0 296.1 L1000.0 296.2 L999.0 297.0 L998.0 297.8 L997.0 298.5 L996.0 299.2 L995.0 300.0 L994.0 302.0 L993.0 304.0 L992.0 305.1 L991.0 305.4 L990.0 305.6 L989.0 305.9 L988.0 306.1 L987.0 307.0 L986.0 308.5 L985.0 310.0 L984.0 311.5 L983.0 313.0 L982.0 313.9 L981.0 314.1 L980.0 314.4 L979.0 314.6 L978.0 314.9 L977.0 315.4 L976.0 316.1 L975.0 316.9 L974.0 317.6 L973.0 318.4 L972.0 318.9 L971.0 319.1 L970.0 319.2 L969.0 319.4 L968.0 319.6 L967.0 319.9 L966.0 320.5 L965.0 322.4 L964.0 324.3 L963.0 326.2 L962.0 328.1 L961.0 329.5 L960.0 329.6 L959.0 329.7 L958.0 329.8 L957.0 329.9 L956.0 330.2 L955.0 331.2 L954.0 332.2 L953.0 333.0 L952.0 333.8 L951.0 334.5 L950.0 335.2 L949.0 335.9 L948.0 336.6 L947.0 337.0 L946.0 337.0 L945.0 337.1 L944.0 337.1 L943.0 337.1 L942.0 337.2 L941.0 337.2 L940.0 337.2 L939.0 337.2 L938.0 337.3 L937.0 337.3 L936.0 337.3 L935.0 337.4 L934.0 337.4 L933.0 337.4 L932.0 337.4 L931.0 337.5 L930.0 337.5 L929.0 337.6 L928.0 337.8 L927.0 337.9 L926.0 338.0 L925.0 338.1 L924.0 338.2 L923.0 338.4 L922.0 338.5 L921.0 338.6 L920.0 338.8 L919.0 339.2 L918.0 339.8 L917.0 340.2 L916.0 340.8 L915.0 341.2 L914.0 341.8 L913.0 342.2 L912.0 342.8 L911.0 343.2 L910.0 343.8 L909.0 344.8 L908.0 345.8 L907.0 346.8 L906.0 349.0 L905.0 355.0 L904.0 361.0 L903.0 367.0 L902.0 370.4 L901.0 371.1 L900.0 371.9 L899.0 372.6 L898.0 373.4 L897.0 373.9 L896.0 374.3 L895.0 374.7 L894.0 375.1 L893.0 375.4 L892.0 375.8 L891.0 376.2 L890.0 376.6 L889.0 376.9 L888.0 377.3 L887.0 378.4 L886.0 380.1 L885.0 381.9 L884.0 383.6 L883.0 385.4 L882.0 386.9 L881.0 388.1 L880.0 389.4 L879.0 390.6 L878.0 391.9 L877.0 392.8 L876.0 393.2 L875.0 393.8 L874.0 394.2 L873.0 394.8 L872.0 395.2 L871.0 395.8 L870.0 396.2 L869.0 397.2 L868.0 398.2 L867.0 399.2 L866.0 400.9 L865.0 404.6 L864.0 408.3 L863.0 412.0 L862.0 412.0 L861.0 412.0 L860.0 412.0 L859.0 412.0 L858.0 412.0 L857.0 412.0 L856.0 412.0 L855.0 412.0 L854.0 412.0 L853.0 412.0 L852.0 412.0 L851.0 412.0 L850.0 412.0 L849.0 412.0 L848.0 412.3 L847.0 412.7 L846.0 413.1 L845.0 413.5 L844.0 413.5 L843.0 413.6 L842.0 413.6 L841.0 413.7 L840.0 413.7 L839.0 413.8 L838.0 413.8 L837.0 413.9 L836.0 413.9 L835.0 414.0 L834.0 414.0 L833.0 414.1 L832.0 414.1 L831.0 414.2 L830.0 414.2 L829.0 414.3 L828.0 414.3 L827.0 414.4 L826.0 414.4 L825.0 414.5 L824.0 415.4 L823.0 417.2 L822.0 418.9 L821.0 420.7 L820.0 422.5 L819.0 424.8 L818.0 427.0 L817.0 429.2 L816.0 431.5 L815.0 433.8 L814.0 434.9 L813.0 436.1 L812.0 437.2 L811.0 438.4 L810.0 439.5 L809.0 439.5 L808.0 439.5 L807.0 439.6 L806.0 439.6 L805.0 439.6 L804.0 439.6 L803.0 439.7 L802.0 439.7 L801.0 439.7 L800.0 439.7 L799.0 439.7 L798.0 439.8 L797.0 439.8 L796.0 439.8 L795.0 439.8 L794.0 439.9 L793.0 439.9 L792.0 439.9 L791.0 439.9 L790.0 439.9 L789.0 440.0 L788.0 440.0 L787.0 440.1 L786.0 440.3 L785.0 440.5 L784.0 440.7 L783.0 440.9 L782.0 441.1 L781.0 441.9 L780.0 444.4 L779.0 446.9 L778.0 449.5 L777.0 450.8 L776.0 450.8 L775.0 450.8 L774.0 450.8 L773.0 450.8 L772.0 450.8 L771.0 450.8 L770.0 450.8 L769.0 450.9 L768.0 450.9 L767.0 450.9 L766.0 450.9 L765.0 450.9 L764.0 450.9 L763.0 450.9 L762.0 450.9 L761.0 451.0 L760.0 451.0 L759.0 451.0 L758.0 451.0 L757.0 451.0 L756.0 451.0 L755.0 451.0 L754.0 451.1 L753.0 451.1 L752.0 451.1 L751.0 451.1 L750.0 451.1 L749.0 451.1 L748.0 451.1 L747.0 451.1 L746.0 451.2 L745.0 451.2 L744.0 451.2 L743.0 451.2 L742.0 451.2 L741.0 451.2 L740.0 451.2 L739.0 451.2 L738.0 453.1 L737.0 455.6 L736.0 458.0 L735.0 460.5 L734.0 461.0 L733.0 461.6 L732.0 462.1 L731.0 463.4 L730.0 466.9 L729.0 470.4 L728.0 471.6 L727.0 472.1 L726.0 472.6 L725.0 473.1 L724.0 473.6 L723.0 476.4 L722.0 479.9 L721.0 484.0 L720.0 490.0 L719.0 496.0 L718.0 502.0 L717.0 507.7 L716.0 513.0 L715.0 518.3 L714.0 523.7 L713.0 528.5 L712.0 533.1 L711.0 537.7 L710.0 540.1 L709.0 540.2 L708.0 540.3 L707.0 540.4 L706.0 540.5 L705.0 540.7 L704.0 540.8 L703.0 540.9 L702.0 541.0 L701.0 541.1 L700.0 541.2 L699.0 541.4 L698.0 541.5 L697.0 541.6 L696.0 541.8 L695.0 541.9 L694.0 542.0 L693.0 542.1 L692.0 542.2 L691.0 542.4 L690.0 542.5 L689.0 544.5 L688.0 546.5 L687.0 548.5 L686.0 550.5 L685.0 552.5 L684.0 554.2 L683.0 556.0 L682.0 557.7 L681.0 559.0 L680.0 559.0 L679.0 559.1 L678.0 559.1 L677.0 559.1 L676.0 559.1 L675.0 559.2 L674.0 559.2 L673.0 559.2 L672.0 559.2 L671.0 559.3 L670.0 559.3 L669.0 559.3 L668.0 559.4 L667.0 559.4 L666.0 559.4 L665.0 559.4 L664.0 559.5 L663.0 559.5 L662.0 560.3 L661.0 561.9 L660.0 563.5 L659.0 565.1 L658.0 566.7 L657.0 569.2 L656.0 572.5 L655.0 575.8 L654.0 579.2 L653.0 582.4 L652.0 585.6 L651.0 588.8 L650.0 592.0 L649.0 592.1 L648.0 592.2 L647.0 592.3 L646.0 592.5 L645.0 592.6 L644.0 592.7 L643.0 592.8 L642.0 592.9 L641.0 593.0 L640.0 593.1 L639.0 593.3 L638.0 593.4 L637.0 593.5 L636.0 593.6 L635.0 593.7 L634.0 593.8 L633.0 593.9 L632.0 594.0 L631.0 593.9 L630.0 593.8 L629.0 593.8 L628.0 593.8 L627.0 593.8 L626.0 593.8 L625.0 593.8 L624.0 593.8 L623.0 593.8 L622.0 593.8 L621.0 593.8 L620.0 593.8 L619.0 593.8 L618.0 593.8 L617.0 593.8 L616.0 593.8 L615.0 593.8 L614.0 593.8 L613.0 593.8 L612.0 593.8 L611.0 593.8 L610.0 593.8 L609.0 593.8 L608.0 593.8 L607.0 593.8 L606.0 593.8 L605.0 593.8 L604.0 593.8 L603.0 593.8 L602.0 593.8 L601.0 593.8 L600.0 593.8 L599.0 593.8 L598.0 593.8 L597.0 593.8 L596.0 593.8 L595.0 593.8 L594.0 593.8 L593.0 593.8 L592.0 593.8 L591.0 593.8 L590.0 593.8 L589.0 593.8 L588.0 593.8 L587.0 593.8 L586.0 593.8 L585.0 593.8 L584.0 593.8 L583.0 593.8 L582.0 593.8 L581.0 593.8 L580.0 593.8 L579.0 593.8 L578.0 593.8 L577.0 593.8 L576.0 593.8 L575.0 593.8 L574.0 593.8 L573.0 593.8 L572.0 593.8 L571.0 593.9 L570.0 594.2 L569.0 594.6 L568.0 595.0 L567.0 595.5 L566.0 595.9 L565.0 596.2 L564.0 596.4 L563.0 596.5 L562.0 596.6 L561.0 596.8 L560.0 596.9 L559.0 597.0 L558.0 597.1 L557.0 597.2 L556.0 597.4 L555.0 597.5 L554.0 598.0 L553.0 598.5 L552.0 599.0 L551.0 599.5 L550.0 600.0 L549.0 602.7 L548.0 605.3 L547.0 608.0 L546.0 612.0 L545.0 620.0 L544.0 628.0 L543.0 630.3 L542.0 630.7 L541.0 631.1 L540.0 631.5 L539.0 631.9 L538.0 633.6 L537.0 635.7 L536.0 637.9 L535.0 640.0 L534.0 640.2 L533.0 640.4 L532.0 640.5 L531.0 640.7 L530.0 640.9 L529.0 641.1 L528.0 641.2 L527.0 644.6 L526.0 647.9 L525.0 651.2 L524.0 648.2Z" fill="rgba(67,160,71,0.10)"/>
<path d="M1282.0 134.8 L1283.0 137.4 L1284.0 138.4 L1285.0 139.4 L1286.0 139.4 L1287.0 139.5 L1288.0 139.5 L1289.0 139.6 L1290.0 139.9 L1291.0 140.4 L1292.0 141.0 L1293.0 141.5 L1294.0 142.1 L1295.0 142.6 L1296.0 143.2 L1297.0 143.7 L1298.0 144.3 L1299.0 144.8 L1300.0 145.4 L1301.0 145.9 L1302.0 146.5 L1303.0 147.0 L1304.0 147.6 L1305.0 148.1 L1306.0 148.4 L1307.0 148.6 L1308.0 148.9 L1309.0 149.2 L1310.0 149.4 L1311.0 149.7 L1312.0 149.7 L1313.0 149.6 L1314.0 149.5 L1315.0 149.4 L1316.0 149.3 L1317.0 149.2 L1318.0 149.1 L1319.0 149.0 L1320.0 148.9 L1321.0 148.8 L1322.0 148.7 L1323.0 148.6 L1324.0 148.5 L1325.0 148.4 L1326.0 148.3 L1327.0 148.2 L1328.0 147.6 L1329.0 146.6 L1330.0 145.6 L1331.0 144.6 L1332.0 144.3 L1333.0 144.3 L1334.0 144.2 L1335.0 144.2 L1336.0 144.1 L1337.0 144.1 L1338.0 144.0 L1339.0 143.9 L1340.0 143.9 L1341.0 143.8 L1342.0 143.8 L1343.0 143.6 L1344.0 143.2 L1345.0 142.8 L1346.0 142.4 L1347.0 142.1 L1348.0 141.9 L1349.0 141.9 L1350.0 141.9 L1351.0 141.9 L1352.0 141.9 L1353.0 141.9 L1354.0 141.8 L1355.0 141.2 L1356.0 140.8 L1357.0 140.2 L1358.0 140.4 L1359.0 141.2 L1360.0 142.1 L1361.0 142.9 L1362.0 143.1 L1363.0 143.1 L1364.0 143.1 L1365.0 143.1 L1366.0 143.1 L1367.0 143.1 L1368.0 143.1 L1369.0 143.1 L1370.0 143.1 L1371.0 143.1 L1372.0 143.1 L1373.0 142.8 L1374.0 142.1 L1375.0 141.5 L1376.0 140.8 L1377.0 140.7 L1378.0 140.7 L1379.0 140.7 L1380.0 140.8 L1381.0 140.8 L1382.0 140.9 L1383.0 140.9 L1384.0 141.0 L1385.0 141.0 L1386.0 141.9 L1387.0 142.7 L1388.0 143.6 L1389.0 144.4 L1390.0 144.7 L1391.0 144.5 L1392.0 144.3 L1393.0 144.2 L1394.0 144.0 L1395.0 143.8 L1396.0 142.8 L1397.0 140.4 L1397.0 142.5 L1396.0 142.6 L1395.0 140.6 L1394.0 138.6 L1393.0 136.8 L1392.0 135.9 L1391.0 135.0 L1390.0 134.1 L1389.0 133.5 L1388.0 133.5 L1387.0 133.4 L1386.0 133.4 L1385.0 133.4 L1384.0 133.4 L1383.0 133.4 L1382.0 133.3 L1381.0 133.3 L1380.0 133.3 L1379.0 133.3 L1378.0 133.2 L1377.0 133.2 L1376.0 133.2 L1375.0 133.2 L1374.0 133.2 L1373.0 133.1 L1372.0 132.3 L1371.0 130.6 L1370.0 128.8 L1369.0 127.1 L1368.0 125.6 L1367.0 125.6 L1366.0 125.6 L1365.0 125.6 L1364.0 125.6 L1363.0 125.6 L1362.0 125.7 L1361.0 125.7 L1360.0 125.7 L1359.0 125.7 L1358.0 125.7 L1357.0 125.7 L1356.0 125.7 L1355.0 125.7 L1354.0 125.7 L1353.0 125.7 L1352.0 125.7 L1351.0 125.7 L1350.0 125.7 L1349.0 125.7 L1348.0 125.7 L1347.0 125.7 L1346.0 125.7 L1345.0 125.7 L1344.0 125.7 L1343.0 125.7 L1342.0 125.8 L1341.0 125.8 L1340.0 125.8 L1339.0 125.8 L1338.0 125.8 L1337.0 125.8 L1336.0 125.8 L1335.0 125.8 L1334.0 125.8 L1333.0 125.8 L1332.0 125.8 L1331.0 125.8 L1330.0 125.8 L1329.0 125.8 L1328.0 125.8 L1327.0 125.8 L1326.0 125.8 L1325.0 125.8 L1324.0 125.8 L1323.0 125.8 L1322.0 125.8 L1321.0 125.9 L1320.0 125.9 L1319.0 125.9 L1318.0 125.9 L1317.0 125.9 L1316.0 125.9 L1315.0 125.9 L1314.0 125.9 L1313.0 125.9 L1312.0 125.9 L1311.0 125.9 L1310.0 125.9 L1309.0 125.9 L1308.0 125.9 L1307.0 125.9 L1306.0 125.9 L1305.0 125.9 L1304.0 125.9 L1303.0 125.9 L1302.0 125.9 L1301.0 125.9 L1300.0 126.0 L1299.0 126.0 L1298.0 126.0 L1297.0 126.0 L1296.0 126.0 L1295.0 126.0 L1294.0 126.0 L1293.0 126.0 L1292.0 126.0 L1291.0 126.0 L1290.0 126.0 L1289.0 127.1 L1288.0 128.2 L1287.0 129.4 L1286.0 130.6 L1285.0 131.7 L1284.0 132.9 L1283.0 134.1 L1282.0 134.4Z" fill="rgba(244,67,54,0.10)"/>
<path d="M1397.0 140.4 L1398.0 138.0 L1399.0 135.6 L1400.0 133.1 L1401.0 136.1 L1402.0 139.1 L1403.0 142.1 L1404.0 145.1 L1405.0 146.3 L1406.0 146.3 L1407.0 146.3 L1408.0 146.3 L1409.0 146.3 L1410.0 146.3 L1411.0 146.4 L1412.0 146.4 L1413.0 146.4 L1414.0 146.4 L1415.0 146.4 L1416.0 146.5 L1417.0 146.5 L1418.0 146.5 L1419.0 147.1 L1420.0 149.5 L1421.0 151.9 L1422.0 155.1 L1423.0 158.5 L1424.0 161.9 L1425.0 165.4 L1426.0 168.2 L1427.0 170.2 L1428.0 172.2 L1428.0 171.8 L1427.0 170.0 L1426.0 168.2 L1425.0 165.4 L1424.0 161.9 L1423.0 158.5 L1422.0 155.1 L1421.0 151.9 L1420.0 149.5 L1419.0 147.1 L1418.0 146.5 L1417.0 146.5 L1416.0 146.5 L1415.0 146.4 L1414.0 146.4 L1413.0 146.4 L1412.0 146.4 L1411.0 146.4 L1410.0 146.3 L1409.0 146.3 L1408.0 146.3 L1407.0 146.3 L1406.0 146.3 L1405.0 146.3 L1404.0 145.6 L1403.0 143.9 L1402.0 142.1 L1401.0 140.4 L1400.0 140.2 L1399.0 141.0 L1398.0 141.8 L1397.0 142.5Z" fill="rgba(67,160,71,0.10)"/>
<path d="M1428.0 172.2 L1429.0 174.5 L1430.0 177.5 L1431.0 180.5 L1432.0 182.2 L1433.0 183.4 L1434.0 184.5 L1435.0 184.9 L1436.0 185.3 L1437.0 185.8 L1438.0 186.2 L1439.0 186.5 L1440.0 186.6 L1441.0 186.7 L1442.0 186.8 L1443.0 186.9 L1443.0 173.5 L1442.0 173.5 L1441.0 173.4 L1440.0 173.4 L1439.0 173.4 L1438.0 173.4 L1437.0 173.3 L1436.0 173.3 L1435.0 173.3 L1434.0 173.3 L1433.0 173.2 L1432.0 173.2 L1431.0 173.2 L1430.0 173.2 L1429.0 173.1 L1428.0 171.8Z" fill="rgba(244,67,54,0.10)"/>
<path d="M0.0 558.8 L2.5 570.0 L6.2 575.0 L9.5 580.0 L15.0 582.5 L18.8 586.2 L22.5 592.5 L37.5 593.0 L40.0 586.2 L42.5 580.0 L52.5 579.5 L56.2 565.0 L60.0 557.5 L65.0 555.8 L87.5 555.0 L91.2 552.5 L95.0 546.2 L98.8 537.5 L102.5 535.0 L106.2 530.0 L110.0 515.0 L115.0 511.2 L118.8 503.8 L122.5 502.5 L126.2 488.8 L130.0 486.2 L133.8 482.5 L137.5 479.5 L150.0 480.0 L156.2 481.2 L160.0 488.8 L163.8 491.2 L166.2 500.0 L170.0 507.5 L172.5 516.2 L176.2 523.8 L180.0 528.8 L183.8 530.5 L187.5 530.0 L190.0 536.2 L195.0 545.0 L200.0 547.0 L207.5 545.5 L217.5 544.5 L223.8 545.5 L227.5 551.2 L230.0 553.8 L235.0 556.2 L241.2 567.5 L252.5 572.5 L256.2 590.0 L260.0 603.8 L265.0 613.8 L271.2 617.5 L277.5 622.5 L281.2 630.0 L283.8 642.5 L286.2 656.2 L290.0 658.8 L298.8 659.5 L305.0 665.0 L310.0 661.2 L315.0 656.2 L318.8 650.0 L322.5 642.0 L330.0 641.2 L335.0 632.5 L338.8 625.0 L341.2 626.2 L345.0 631.2 L350.0 636.2 L355.0 637.5 L365.0 638.0 L367.5 645.0 L373.8 645.5 L377.5 650.0 L380.0 656.2 L383.8 658.8 L395.0 659.2 L400.0 662.5 L405.0 666.2 L411.2 670.0 L415.0 650.0 L420.0 645.0 L425.0 643.0 L430.0 643.0 L433.8 638.8 L440.0 630.0 L443.8 615.0 L447.5 605.0 L451.2 600.0 L455.0 598.8 L457.5 580.0 L460.0 571.2 L460.0 570.0 L465.0 566.2 L468.8 562.5 L473.8 545.0 L480.0 531.2 L485.0 528.0 L488.8 507.5 L492.5 502.5 L498.8 503.0 L503.8 505.5 L510.0 511.2 L517.5 515.0 L527.5 520.0 L532.5 528.8 L537.5 533.0 L542.5 535.0 L546.2 535.0 L548.8 520.0 L550.5 517.5 L560.0 517.5 L565.0 506.2 L571.2 498.8 L577.5 485.0 L580.0 478.8 L585.0 476.2 L602.5 475.8 L607.5 474.5 L621.2 473.8 L625.0 462.5 L628.8 452.5 L631.2 440.0 L635.0 422.5 L640.0 421.2 L645.0 411.2 L648.8 402.5 L652.5 400.5 L657.5 400.5 L661.2 392.5 L663.8 377.5 L667.5 367.5 L672.5 366.2 L680.0 365.0 L686.2 366.2 L691.2 366.2 L693.8 355.0 L700.0 352.5 L706.2 352.0 L712.5 348.0 L721.2 347.5 L723.8 336.2 L726.2 333.2 L735.0 333.2 L742.5 333.8 L756.2 336.2 L762.5 333.8 L770.0 331.2 L776.2 330.0 L782.5 327.5 L787.5 323.8 L795.0 321.2 L800.0 315.0 L806.2 311.2 L812.5 309.5 L820.0 310.5 L826.2 310.0 L833.8 309.5 L838.8 311.2 L841.2 321.2 L850.0 323.0 L856.2 326.2 L862.5 326.2 L865.0 320.0 L870.0 318.0 L877.5 315.0 L883.8 310.0 L891.2 307.5 L895.0 297.5 L898.8 288.8 L905.0 285.0 L910.0 280.0 L916.2 271.2 L920.0 270.0 L927.5 265.0 L933.8 261.2 L938.8 260.0 L945.0 258.0 L948.8 253.8 L953.8 243.8 L958.8 240.0 L963.8 236.2 L971.2 231.2 L977.5 220.0 L981.2 210.0 L986.2 197.5 L991.2 195.0 L998.8 193.0 L1005.0 191.2 L1009.5 196.2 L1013.0 187.5 L1016.2 180.0 L1020.0 172.5 L1027.5 165.0 L1032.5 162.5 L1037.5 160.0 L1042.5 155.0 L1046.2 145.0 L1048.8 136.2 L1052.5 131.2 L1058.8 130.0 L1063.8 126.2 L1070.0 121.2 L1076.2 122.0 L1082.5 123.8 L1086.2 132.5 L1090.0 116.2 L1095.0 113.8 L1099.5 111.2 L1105.0 115.0 L1112.5 115.5 L1120.0 115.0 L1125.0 115.5 L1132.5 123.8 L1138.8 118.8 L1142.5 120.0 L1150.0 127.0 L1153.4 133.8 L1156.8 138.3 L1160.1 133.8 L1163.5 132.1 L1166.9 142.8 L1170.3 142.8 L1172.5 137.1 L1177.0 132.6 L1179.5 131.5 L1182.6 133.8 L1189.4 134.3 L1192.8 145.0 L1208.5 145.6 L1211.3 149.5 L1214.1 151.8 L1222.0 152.3 L1235.5 152.0 L1240.0 145.0 L1243.4 142.2 L1251.3 141.9 L1256.9 139.4 L1267.0 138.3 L1269.3 136.0 L1273.8 138.8 L1285.0 138.8 L1295.0 144.0 L1298.8 143.8 L1300.0 147.5 L1302.5 147.5 L1306.2 145.0 L1308.8 140.0 L1310.6 133.8 L1313.1 138.8 L1315.0 146.2 L1328.1 146.5 L1330.0 149.4 L1333.1 158.8 L1336.2 168.1 L1339.4 173.8 L1340.6 180.0 L1342.5 188.8 L1343.8 193.8 L1346.9 198.1 L1350.0 200.0 L1354.5 200.2" fill="none" stroke="#2196f3" stroke-width="1.05" stroke-linejoin="round"/>
<path d="M0.0 536.2 L3.8 538.8 L8.8 547.0 L37.5 547.5 L43.8 550.0 L50.0 552.0 L56.2 552.5 L58.0 560.0 L61.2 571.2 L65.0 572.0 L90.0 572.0 L93.8 567.0 L97.5 557.5 L100.0 545.0 L102.5 537.5 L107.5 535.0 L112.5 533.8 L117.5 530.0 L125.0 528.8 L130.0 526.2 L136.2 522.5 L140.0 519.5 L150.0 519.0 L155.0 517.0 L165.0 515.0 L170.0 510.0 L172.5 506.2 L176.2 505.5 L180.0 510.5 L213.8 510.8 L222.5 511.2 L226.2 515.0 L230.0 518.8 L232.5 532.5 L235.0 547.5 L241.2 551.2 L247.5 552.5 L251.2 562.5 L255.0 572.5 L261.2 577.5 L266.2 585.0 L271.2 588.8 L276.2 591.2 L282.5 591.2 L286.2 601.2 L288.8 605.5 L296.2 606.2 L302.5 609.5 L311.2 609.5 L315.0 617.5 L320.0 630.0 L323.8 636.2 L340.0 637.0 L342.5 648.8 L345.0 650.0 L377.5 650.0 L380.0 651.2 L415.0 651.8 L422.5 651.2 L426.2 653.0 L429.5 657.5 L433.8 653.8 L437.5 648.8 L441.2 642.5 L447.5 641.2 L452.5 630.0 L455.0 610.0 L457.5 605.0 L460.0 602.5 L460.0 598.8 L465.0 597.5 L472.5 596.2 L475.5 584.5 L480.0 583.0 L483.8 579.5 L500.0 579.0 L506.2 568.8 L508.8 562.5 L527.5 562.0 L532.5 546.2 L536.2 537.5 L540.0 530.0 L546.2 529.5 L548.8 518.8 L551.2 518.0 L560.0 517.5 L565.0 507.5 L571.2 499.2 L610.0 498.8 L615.0 497.0 L626.2 496.5 L630.0 480.0 L633.8 465.0 L637.5 450.0 L641.2 442.5 L645.0 436.2 L648.8 429.5 L652.5 428.0 L680.0 428.0 L683.8 416.2 L687.5 414.5 L691.2 406.2 L695.0 401.2 L700.0 397.5 L706.2 390.0 L711.2 388.8 L717.5 388.0 L721.2 382.5 L723.0 362.5 L725.0 356.2 L732.5 351.2 L738.8 349.5 L757.5 349.0 L770.0 347.5 L776.2 343.0 L781.2 338.8 L785.0 330.5 L796.2 327.5 L805.0 322.5 L830.0 322.0 L862.5 322.0 L866.2 320.0 L870.0 320.0 L882.5 318.8 L890.0 315.0 L895.0 312.5 L898.8 305.0 L903.8 303.8 L907.5 300.0 L913.8 295.5 L923.8 295.0 L930.0 294.5 L937.5 292.0 L945.0 287.5 L950.0 283.8 L953.8 276.2 L956.2 265.0 L961.2 260.0 L970.0 258.0 L973.8 247.5 L977.5 237.0 L985.0 231.2 L992.5 227.0 L1000.0 226.2 L1003.8 222.5 L1010.0 221.2 L1015.0 211.2 L1020.0 203.8 L1036.2 198.0 L1040.0 187.5 L1045.0 172.5 L1050.0 165.0 L1056.2 160.0 L1062.5 158.0 L1070.0 157.5 L1080.0 157.0 L1085.0 153.8 L1090.0 142.5 L1095.0 137.5 L1100.0 133.8 L1103.8 130.0 L1106.2 118.8 L1108.8 115.5 L1132.5 115.2 L1140.0 115.0 L1150.0 116.9 L1187.1 116.9 L1189.4 121.4 L1195.0 132.6 L1197.3 133.8 L1207.4 133.5 L1211.3 138.3 L1214.7 143.3 L1217.5 145.0 L1282.8 145.6 L1286.2 142.8 L1295.0 143.1 L1306.2 143.1 L1309.4 137.5 L1311.2 132.8 L1312.8 137.5 L1315.0 146.0 L1315.6 146.5 L1328.1 146.5 L1330.0 149.4 L1333.1 158.8 L1336.2 168.1 L1340.0 173.1 L1354.4 173.5" fill="none" stroke="#b71c1c" stroke-width="1.05" stroke-linejoin="round"/>
<path d="M0.0 533.8 L2.5 532.5 L5.0 512.5 L8.8 491.2 L12.5 496.2 L17.5 501.2 L22.5 501.2 L26.2 493.8 L30.5 467.5 L34.2 486.2 L37.5 475.0 L41.2 462.5 L45.0 459.5 L48.2 452.0 L51.2 475.0 L55.5 506.2 L62.0 490.0 L65.5 498.8 L71.2 528.8 L73.8 516.2 L77.5 547.5 L81.2 552.5 L85.0 547.5 L88.8 541.2 L91.2 535.0 L94.5 534.5 L97.5 530.0 L101.2 528.8 L105.0 532.0 L110.0 532.5 L112.5 540.0 L116.2 568.8 L120.0 531.2 L123.8 528.2 L126.2 540.0 L130.0 536.2 L134.2 543.8 L136.2 580.0 L141.2 578.8 L143.8 592.5 L147.5 597.5 L151.2 608.8 L155.5 585.0 L160.0 595.0 L164.5 613.2 L169.7 635.6 L173.2 632.5 L175.9 636.9 L180.2 636.0 L183.4 650.0 L187.2 665.7 L190.7 660.5 L194.6 652.1 L198.6 695.5 L201.2 661.4 L205.6 648.2 L209.1 665.7 L212.6 670.1 L217.0 637.7 L219.6 627.2 L224.0 629.0 L227.5 621.1 L230.0 615.5 L232.5 616.2 L236.2 627.5 L240.0 637.5 L243.8 637.0 L247.5 633.8 L251.2 640.0 L256.2 655.0 L261.2 655.5 L265.0 636.2 L267.5 643.8 L271.2 636.2 L275.0 625.0 L278.8 622.5 L281.2 625.0 L283.8 640.0 L286.2 651.2 L288.8 672.5 L290.0 696.2 L293.8 690.0 L297.5 678.8 L301.2 662.5 L305.0 642.5 L307.5 650.0 L310.0 660.0 L313.8 655.0 L316.2 650.0 L318.8 662.5 L322.5 656.2 L326.2 625.0 L330.0 620.0 L333.8 616.2 L340.0 617.0 L343.8 605.0 L347.5 627.5 L350.0 600.0 L351.2 586.2 L353.8 588.8 L357.5 577.5 L361.2 567.5 L365.0 568.8 L366.2 550.0 L368.8 515.0 L371.2 497.5 L373.8 495.0 L377.5 493.8 L385.0 492.5 L388.0 497.5 L390.0 513.8 L393.8 501.2 L396.2 500.0 L402.5 505.0 L408.8 505.0 L413.8 522.5 L418.8 533.8 L422.5 525.0 L428.8 540.0 L436.2 531.2 L445.0 532.5 L450.0 548.8 L453.8 532.5 L456.2 515.0 L458.8 495.0 L462.5 497.0 L467.5 502.5 L470.0 503.8 L472.5 498.8 L475.0 468.0 L479.5 457.5 L483.8 467.0 L487.5 482.5 L490.0 486.2 L492.5 483.0 L496.2 488.8 L500.0 487.5 L503.8 458.8 L506.2 452.5 L508.8 459.5 L512.5 471.2 L516.2 463.8 L518.8 450.5 L520.0 463.8 L523.8 445.0 L528.8 443.8 L536.2 450.0 L540.0 430.0 L543.8 390.0 L547.5 388.8 L553.8 377.5 L560.0 360.5 L565.0 366.2 L568.8 363.8 L575.5 374.5 L578.8 367.5 L582.5 366.2 L585.5 360.5 L589.5 371.2 L592.5 360.5 L600.5 360.5 L602.5 333.8 L606.2 335.5 L610.0 329.5 L614.5 329.5 L621.2 340.5 L625.0 336.2 L631.2 327.5 L637.5 326.2 L642.5 328.8 L648.8 340.0 L653.8 341.2 L661.2 333.8 L663.8 340.5 L667.5 322.5 L671.2 325.5 L678.8 319.5 L682.5 325.0 L687.5 322.5 L693.8 316.2 L698.8 317.5 L703.8 312.5 L707.0 317.5 L711.2 303.0 L715.0 303.8 L720.0 303.0 L723.8 315.0 L727.5 312.5 L732.0 305.0 L735.0 306.2 L740.0 317.5 L745.0 321.2 L750.0 323.8 L753.8 338.8 L758.8 336.2 L765.0 330.0 L770.0 325.0 L773.8 302.5 L777.5 301.2 L781.2 293.8 L786.2 302.0 L790.0 295.5 L797.5 291.2 L801.2 287.5 L807.5 270.0 L812.5 273.8 L817.5 260.5 L820.0 267.5 L826.2 248.0 L832.5 255.5 L838.8 258.0 L848.8 246.2 L856.2 266.2 L861.7 239.0 L862.5 240.0 L866.2 218.0 L870.0 218.0 L874.5 204.5 L877.2 209.0 L881.2 199.2 L884.7 186.2 L888.0 188.7 L891.7 201.5 L897.7 208.7 L902.2 196.7 L906.7 200.7 L909.7 192.5 L916.5 189.8 L920.0 190.0 L920.7 189.2 L922.5 175.0 L927.5 152.5 L931.2 143.8 L935.0 139.5 L940.0 145.0 L946.2 144.5 L948.8 130.0 L952.5 122.5 L957.5 120.0 L962.5 118.8 L966.2 127.5 L972.5 125.0 L977.5 123.0 L984.5 132.5 L987.5 127.0 L990.5 125.5 L994.5 143.8 L997.5 110.0 L1001.2 85.0 L1005.0 82.5 L1008.8 87.5 L1011.2 110.0 L1013.8 131.2 L1017.5 140.0 L1021.2 130.0 L1025.0 127.5 L1030.0 97.5 L1033.8 113.8 L1037.5 132.5 L1042.5 134.5 L1047.5 130.0 L1051.2 138.8 L1055.0 149.5 L1060.0 145.0 L1065.0 142.5 L1070.0 141.2 L1075.0 137.0 L1080.0 128.8 L1083.8 123.8 L1087.5 128.8 L1092.5 136.2 L1095.0 142.5 L1100.0 135.0 L1103.8 152.5 L1105.5 172.5 L1108.8 166.2 L1112.5 161.2 L1115.5 166.2 L1120.0 157.5 L1126.2 133.8 L1132.5 150.0 L1137.0 156.2 L1141.2 147.5 L1145.0 140.0 L1150.0 137.1 L1155.1 120.3 L1158.4 134.9 L1160.1 139.9 L1164.6 138.8 L1168.6 129.3 L1172.5 121.9 L1176.4 120.3 L1178.1 131.5 L1177.7 142.8 L1179.8 151.8 L1183.8 152.9 L1189.4 156.3 L1195.0 155.1 L1198.4 147.3 L1202.9 138.8 L1205.1 137.7 L1208.5 141.6 L1213.0 138.3 L1216.4 132.6 L1219.2 130.4 L1222.0 139.4 L1224.3 152.9 L1226.5 163.0 L1229.9 164.1 L1233.3 170.3 L1236.6 174.8 L1240.0 173.4 L1241.4 178.8 L1242.8 190.0 L1243.8 200.0 L1247.5 234.5 L1252.0 221.2 L1255.0 227.5 L1258.8 229.5 L1265.5 220.0" fill="none" stroke="#43a047" stroke-width="1.05" stroke-linejoin="round"/>
<path d="M0.0 533.2 L5.0 537.5 L10.0 540.0 L15.0 538.8 L20.0 535.0 L25.0 535.0 L31.2 532.5 L35.0 525.0 L40.0 522.5 L45.0 517.5 L50.0 513.8 L53.8 513.8 L58.8 517.5 L63.8 522.5 L68.8 526.2 L75.0 528.8 L80.0 532.5 L85.0 541.2 L90.0 550.0 L93.8 557.5 L96.2 562.5 L100.0 565.0 L105.0 565.0 L110.0 567.5 L115.0 569.5 L120.0 570.0 L125.0 569.5 L130.0 566.2 L135.0 565.0 L140.0 563.8 L145.0 561.8 L150.0 563.8 L157.5 563.8 L175.0 563.8 L180.0 562.5 L183.8 550.0 L187.5 547.5 L191.2 537.5 L195.0 530.0 L200.0 525.0 L205.0 522.5 L208.8 515.0 L215.0 510.0 L220.0 505.0 L225.0 501.2 L230.0 499.2 L235.0 498.5 L242.5 499.0 L246.2 500.0 L250.0 505.0 L255.0 510.0 L261.2 512.5 L271.2 520.0 L276.2 521.2 L281.2 526.2 L290.0 528.8 L302.5 527.0 L310.0 527.5 L316.2 535.0 L321.2 543.8 L326.2 552.5 L330.0 558.8 L336.2 561.2 L340.0 567.5 L345.0 586.2 L350.0 592.5 L355.0 600.0 L360.0 602.5 L366.2 607.5 L372.5 615.0 L375.0 631.2 L381.2 632.5 L386.2 636.2 L391.2 638.8 L396.2 637.0 L400.0 636.2 L403.8 638.8 L407.5 642.0 L411.2 638.8 L415.0 637.0 L421.2 636.2 L426.2 634.5 L430.0 633.0 L432.5 638.8 L437.5 641.2 L442.5 643.8 L452.5 643.8 L456.2 647.5 L463.8 648.0 L470.0 655.0 L475.0 656.2 L491.2 656.2 L496.2 660.0 L501.2 660.0 L505.0 650.0 L510.0 648.0 L515.0 647.5 L518.8 650.0 L522.5 646.2 L528.0 634.5 L532.5 631.2 L537.5 620.0 L541.2 615.0 L543.8 613.8 L546.2 593.8 L550.0 585.0 L553.8 582.5 L557.5 581.2 L562.5 565.0 L567.5 557.5 L572.5 555.0 L577.5 543.8 L581.2 541.2 L590.0 541.2 L596.2 537.0 L601.2 537.5 L610.0 540.5 L616.2 541.2 L623.8 536.2 L630.0 532.5 L635.0 522.5 L640.0 518.0 L649.5 517.5 L653.8 508.8 L660.0 500.0 L665.0 493.8 L671.2 488.0 L680.0 487.5 L692.5 488.5 L700.0 486.2 L711.2 485.0 L717.5 472.5 L721.2 452.5 L724.5 437.5 L730.0 431.2 L733.8 426.2 L738.8 415.0 L747.5 413.0 L753.8 399.5 L762.5 397.5 L770.0 396.2 L773.8 391.2 L777.5 390.0 L782.5 380.0 L790.0 375.0 L795.0 370.5 L802.5 368.8 L808.8 367.5 L812.5 346.2 L815.0 343.8 L825.0 342.0 L840.0 342.0 L852.5 340.0 L862.5 336.2 L870.0 332.5 L877.5 326.2 L886.2 318.8 L897.5 316.2 L923.8 315.5 L930.0 322.5 L942.5 323.8 L948.8 326.2 L953.8 320.0 L965.0 318.0 L972.5 316.2 L977.5 312.0 L982.5 309.5 L987.5 298.0 L992.5 294.5 L997.5 292.5 L1005.0 282.5 L1012.5 280.0 L1020.0 277.5 L1030.0 273.8 L1037.5 271.2 L1042.5 263.8 L1045.0 253.8 L1050.0 250.0 L1058.8 245.0 L1063.8 232.5 L1070.0 220.0 L1076.2 212.0 L1082.5 210.5 L1090.0 207.5 L1095.0 209.5 L1102.5 197.5 L1106.2 188.8 L1112.5 185.0 L1120.0 181.2 L1126.2 178.8 L1132.5 165.0 L1136.2 156.2 L1140.0 148.8 L1145.0 140.0 L1150.0 130.0 L1154.5 137.1 L1160.1 141.9 L1166.9 142.5 L1172.5 141.1 L1177.0 138.3 L1178.1 131.5 L1178.7 122.5 L1187.1 123.1 L1193.9 122.5 L1197.3 116.3 L1200.6 115.5 L1215.3 115.8 L1222.0 119.7 L1226.5 115.8 L1231.0 116.9 L1242.3 124.2 L1245.6 128.1 L1262.5 128.7 L1265.9 127.0 L1270.4 124.8 L1276.0 126.4 L1280.5 130.4 L1282.8 137.1 L1285.0 139.4 L1289.5 139.6 L1305.0 148.1 L1311.2 149.8 L1327.5 148.1 L1331.2 144.4 L1342.5 143.8 L1347.5 141.9 L1353.8 141.9 L1357.5 140.0 L1361.2 143.1 L1372.5 143.1 L1376.2 140.6 L1385.0 141.0 L1389.4 144.8 L1395.6 143.8 L1400.0 133.1 L1404.4 146.2 L1418.8 146.5 L1421.2 152.5 L1425.6 167.5 L1428.8 173.8 L1431.2 181.2 L1433.8 184.4 L1438.8 186.5 L1443.1 186.9" fill="none" stroke="#a5d6a7" stroke-width="1"/>
<path d="M0.0 465.8 L5.0 467.0 L7.5 471.2 L11.2 480.0 L16.2 482.5 L21.2 486.2 L27.5 487.0 L72.5 487.0 L77.5 490.0 L80.0 502.5 L85.0 512.5 L90.0 521.2 L92.5 528.8 L95.0 536.2 L97.5 543.8 L102.5 545.5 L180.0 546.2 L190.0 547.0 L200.0 547.5 L225.0 536.2 L230.0 536.2 L280.0 536.2 L281.2 526.2 L283.8 523.8 L290.0 522.0 L302.5 520.0 L318.8 520.0 L326.2 522.5 L330.0 530.0 L340.0 533.8 L343.8 540.0 L350.0 543.8 L355.0 551.2 L360.0 555.0 L365.0 557.0 L372.5 557.0 L375.5 572.0 L400.0 572.0 L411.2 572.0 L413.8 580.0 L417.5 588.8 L421.2 591.2 L428.8 591.2 L431.2 596.2 L435.0 602.5 L443.8 606.2 L467.5 606.2 L473.8 607.5 L481.2 611.2 L493.8 612.0 L497.5 622.5 L502.5 636.2 L505.0 638.8 L518.8 639.5 L522.5 643.8 L525.0 651.2 L528.0 641.2 L535.0 640.0 L538.8 632.0 L543.8 630.0 L546.2 610.0 L550.0 600.0 L555.0 597.5 L565.0 596.2 L571.2 593.8 L630.0 593.8 L632.5 594.0 L650.0 592.0 L653.8 580.0 L657.5 567.5 L662.5 559.5 L681.2 559.0 L685.0 552.5 L690.0 542.5 L700.0 541.2 L710.5 540.0 L713.8 525.0 L717.5 505.0 L721.2 482.5 L723.8 473.8 L728.8 471.2 L731.2 462.5 L735.0 460.5 L738.8 451.2 L777.5 450.8 L781.2 441.2 L787.5 440.0 L810.0 439.5 L815.0 433.8 L820.0 422.5 L824.5 414.5 L845.0 413.5 L848.8 412.0 L863.0 412.0 L866.2 400.0 L870.0 396.2 L877.5 392.5 L882.5 386.2 L887.5 377.5 L897.5 373.8 L902.5 370.0 L906.2 347.5 L910.0 343.8 L920.0 338.8 L930.0 337.5 L947.5 337.0 L953.8 332.5 L956.2 330.0 L961.2 329.5 L966.2 320.0 L972.5 318.8 L977.5 315.0 L982.5 313.8 L987.5 306.2 L992.5 305.0 L995.0 300.0 L1000.0 296.2 L1003.8 295.5 L1035.0 295.0 L1040.0 290.0 L1043.8 281.2 L1048.8 280.0 L1052.5 275.0 L1057.5 273.8 L1062.5 265.5 L1066.2 261.2 L1095.0 260.5 L1106.2 250.0 L1112.5 242.5 L1120.0 235.0 L1127.5 230.0 L1133.8 227.5 L1137.5 217.5 L1142.5 212.0 L1150.0 211.2 L1155.0 210.0 L1157.5 202.5 L1162.5 201.2 L1168.8 195.0 L1175.0 187.5 L1175.9 190.0 L1180.4 178.8 L1183.8 174.3 L1189.4 171.5 L1217.5 171.1 L1222.0 165.3 L1224.3 158.5 L1227.6 151.8 L1231.0 149.5 L1240.0 145.0 L1243.4 142.2 L1262.5 140.5 L1267.0 138.8 L1271.5 134.9 L1282.8 134.3 L1289.5 126.4 L1290.0 126.0 L1368.1 125.6 L1372.5 133.1 L1389.4 133.5 L1393.1 136.9 L1396.2 143.1 L1400.6 139.8 L1404.4 146.2 L1418.8 146.5 L1421.2 152.5 L1425.6 167.5 L1428.8 173.1 L1443.1 173.5" fill="none" stroke="#ef9a9a" stroke-width="1"/>
<path d="M403.75 516.25 L1140.3 4.5" stroke="#2196f3" stroke-width="1.15" stroke-dasharray="5.5 5.5" fill="none"/>
<path d="M513.75 574.5 L1197.5 108" stroke="#2196f3" stroke-width="1.15" stroke-dasharray="5.5 5.5" fill="none"/>
<rect x="948.5" y="81.5" width="466" height="97" fill="rgba(255,152,0,0.2)" stroke="#ff9800" stroke-width="1"/>
<rect x="0" y="113" width="1763.5" height="1" fill="#f44336"/>
<rect x="0" y="174" width="1763.5" height="1" fill="#4caf50"/>
<rect x="0" y="241" width="1763.5" height="1" fill="#4caf50"/>
<rect x="0" y="302" width="1763.5" height="1" fill="#4caf50"/>
<rect x="0" y="348" width="1763.5" height="1" fill="#4caf50"/>
<rect x="0" y="444" width="1763.5" height="1" fill="#4caf50"/>
<g shape-rendering="crispEdges"><rect x="2" y="590" width="1" height="20" fill="#ef5350"/><rect x="1" y="590" width="3" height="10" fill="#ef5350"/>
<rect x="5" y="595" width="1" height="20" fill="#ef5350"/><rect x="4" y="600" width="3" height="2" fill="#ef5350"/>
<rect x="9" y="571" width="1" height="57" fill="#26a69a"/><rect x="8" y="572" width="3" height="29" fill="#26a69a"/>
<rect x="13" y="559" width="1" height="43" fill="#ef5350"/><rect x="12" y="572" width="3" height="10" fill="#ef5350"/>
<rect x="16" y="570" width="1" height="32" fill="#ef5350"/><rect x="15" y="574" width="3" height="10" fill="#ef5350"/>
<rect x="20" y="566" width="1" height="20" fill="#26a69a"/><rect x="19" y="570" width="3" height="14" fill="#26a69a"/>
<rect x="23" y="564" width="1" height="20" fill="#26a69a"/><rect x="22" y="565" width="3" height="17" fill="#26a69a"/>
<rect x="27" y="559" width="1" height="11" fill="#ef5350"/><rect x="26" y="564" width="3" height="2" fill="#ef5350"/>
<rect x="30" y="564" width="1" height="34" fill="#ef5350"/><rect x="29" y="565" width="3" height="24" fill="#ef5350"/>
<rect x="34" y="564" width="1" height="28" fill="#26a69a"/><rect x="33" y="566" width="3" height="23" fill="#26a69a"/>
<rect x="37" y="566" width="1" height="28" fill="#ef5350"/><rect x="36" y="567" width="3" height="8" fill="#ef5350"/>
<rect x="41" y="572" width="1" height="8" fill="#ef5350"/><rect x="40" y="574" width="3" height="2" fill="#ef5350"/>
<rect x="45" y="570" width="1" height="11" fill="#26a69a"/><rect x="44" y="574" width="3" height="6" fill="#26a69a"/>
<rect x="48" y="565" width="1" height="17" fill="#ef5350"/><rect x="47" y="575" width="3" height="6" fill="#ef5350"/>
<rect x="52" y="555" width="1" height="26" fill="#26a69a"/><rect x="51" y="556" width="3" height="24" fill="#26a69a"/>
<rect x="55" y="542" width="1" height="53" fill="#ef5350"/><rect x="54" y="555" width="3" height="23" fill="#ef5350"/>
<rect x="59" y="520" width="1" height="75" fill="#26a69a"/><rect x="58" y="521" width="3" height="57" fill="#26a69a"/>
<rect x="62" y="516" width="1" height="12" fill="#ef5350"/><rect x="61" y="522" width="3" height="2" fill="#ef5350"/>
<rect x="66" y="551" width="1" height="18" fill="#26a69a"/><rect x="65" y="552" width="3" height="16" fill="#26a69a"/>
<rect x="69" y="551" width="1" height="14" fill="#ef5350"/><rect x="68" y="552" width="3" height="7" fill="#ef5350"/>
<rect x="73" y="544" width="1" height="46" fill="#26a69a"/><rect x="72" y="558" width="3" height="1" fill="#26a69a"/>
<rect x="77" y="555" width="1" height="25" fill="#ef5350"/><rect x="76" y="556" width="3" height="4" fill="#ef5350"/>
<rect x="80" y="550" width="1" height="34" fill="#26a69a"/><rect x="79" y="551" width="3" height="9" fill="#26a69a"/>
<rect x="84" y="546" width="1" height="9" fill="#ef5350"/><rect x="83" y="550" width="3" height="2" fill="#ef5350"/>
<rect x="87" y="531" width="1" height="21" fill="#26a69a"/><rect x="86" y="532" width="3" height="19" fill="#26a69a"/>
<rect x="91" y="529" width="1" height="11" fill="#ef5350"/><rect x="90" y="531" width="3" height="3" fill="#ef5350"/>
<rect x="94" y="500" width="1" height="34" fill="#26a69a"/><rect x="93" y="503" width="3" height="29" fill="#26a69a"/>
<rect x="98" y="490" width="1" height="24" fill="#26a69a"/><rect x="97" y="491" width="3" height="13" fill="#26a69a"/>
<rect x="101" y="471" width="1" height="34" fill="#ef5350"/><rect x="100" y="491" width="3" height="7" fill="#ef5350"/>
<rect x="105" y="492" width="1" height="10" fill="#ef5350"/><rect x="104" y="497" width="3" height="4" fill="#ef5350"/>
<rect x="109" y="499" width="1" height="7" fill="#ef5350"/><rect x="108" y="500" width="3" height="2" fill="#ef5350"/>
<rect x="112" y="495" width="1" height="10" fill="#26a69a"/><rect x="111" y="500" width="3" height="1" fill="#26a69a"/>
<rect x="116" y="482" width="1" height="28" fill="#26a69a"/><rect x="115" y="490" width="3" height="11" fill="#26a69a"/>
<rect x="119" y="462" width="1" height="30" fill="#26a69a"/><rect x="118" y="466" width="3" height="24" fill="#26a69a"/>
<rect x="123" y="465" width="1" height="26" fill="#ef5350"/><rect x="122" y="466" width="3" height="23" fill="#ef5350"/>
<rect x="126" y="471" width="1" height="18" fill="#26a69a"/><rect x="125" y="472" width="3" height="16" fill="#26a69a"/>
<rect x="130" y="460" width="1" height="11" fill="#26a69a"/><rect x="129" y="462" width="3" height="8" fill="#26a69a"/>
<rect x="134" y="458" width="1" height="10" fill="#26a69a"/><rect x="133" y="459" width="3" height="3" fill="#26a69a"/>
<rect x="137" y="446" width="1" height="24" fill="#26a69a"/><rect x="136" y="451" width="3" height="9" fill="#26a69a"/>
<rect x="141" y="445" width="1" height="44" fill="#ef5350"/><rect x="140" y="451" width="3" height="35" fill="#ef5350"/>
<rect x="144" y="471" width="1" height="37" fill="#ef5350"/><rect x="143" y="472" width="3" height="34" fill="#ef5350"/>
<rect x="148" y="495" width="1" height="20" fill="#26a69a"/><rect x="147" y="496" width="3" height="10" fill="#26a69a"/>
<rect x="151" y="486" width="1" height="9" fill="#26a69a"/><rect x="150" y="489" width="3" height="5" fill="#26a69a"/>
<rect x="155" y="484" width="1" height="17" fill="#ef5350"/><rect x="154" y="489" width="3" height="11" fill="#ef5350"/>
<rect x="158" y="484" width="1" height="49" fill="#ef5350"/><rect x="157" y="500" width="3" height="30" fill="#ef5350"/>
<rect x="162" y="504" width="1" height="28" fill="#26a69a"/><rect x="161" y="515" width="3" height="16" fill="#26a69a"/>
<rect x="166" y="515" width="1" height="50" fill="#ef5350"/><rect x="165" y="516" width="3" height="39" fill="#ef5350"/>
<rect x="169" y="551" width="1" height="10" fill="#ef5350"/><rect x="168" y="555" width="3" height="3" fill="#ef5350"/>
<rect x="173" y="539" width="1" height="11" fill="#26a69a"/><rect x="172" y="546" width="3" height="3" fill="#26a69a"/>
<rect x="176" y="542" width="1" height="14" fill="#ef5350"/><rect x="175" y="545" width="3" height="5" fill="#ef5350"/>
<rect x="180" y="525" width="1" height="51" fill="#ef5350"/><rect x="179" y="550" width="3" height="1" fill="#ef5350"/>
<rect x="183" y="531" width="1" height="27" fill="#26a69a"/><rect x="182" y="536" width="3" height="15" fill="#26a69a"/>
<rect x="187" y="519" width="1" height="25" fill="#26a69a"/><rect x="186" y="529" width="3" height="7" fill="#26a69a"/>
<rect x="190" y="522" width="1" height="13" fill="#26a69a"/><rect x="189" y="528" width="3" height="2" fill="#26a69a"/>
<rect x="194" y="520" width="1" height="12" fill="#ef5350"/><rect x="193" y="528" width="3" height="3" fill="#ef5350"/>
<rect x="198" y="528" width="1" height="11" fill="#ef5350"/><rect x="197" y="530" width="3" height="2" fill="#ef5350"/>
<rect x="201" y="518" width="1" height="27" fill="#ef5350"/><rect x="200" y="531" width="3" height="8" fill="#ef5350"/>
<rect x="205" y="536" width="1" height="38" fill="#ef5350"/><rect x="204" y="538" width="3" height="31" fill="#ef5350"/>
<rect x="208" y="515" width="1" height="56" fill="#26a69a"/><rect x="207" y="536" width="3" height="33" fill="#26a69a"/>
<rect x="212" y="526" width="1" height="14" fill="#26a69a"/><rect x="211" y="528" width="3" height="8" fill="#26a69a"/>
<rect x="215" y="539" width="1" height="12" fill="#26a69a"/><rect x="214" y="540" width="3" height="3" fill="#26a69a"/>
<rect x="219" y="528" width="1" height="17" fill="#26a69a"/><rect x="218" y="535" width="3" height="5" fill="#26a69a"/>
<rect x="222" y="521" width="1" height="40" fill="#ef5350"/><rect x="221" y="532" width="3" height="28" fill="#ef5350"/>
<rect x="226" y="538" width="1" height="47" fill="#ef5350"/><rect x="225" y="548" width="3" height="33" fill="#ef5350"/>
<rect x="230" y="562" width="1" height="33" fill="#26a69a"/><rect x="229" y="564" width="3" height="30" fill="#26a69a"/>
<rect x="233" y="576" width="1" height="23" fill="#ef5350"/><rect x="232" y="578" width="3" height="16" fill="#ef5350"/>
<rect x="237" y="585" width="1" height="15" fill="#ef5350"/><rect x="236" y="592" width="3" height="7" fill="#ef5350"/>
<rect x="240" y="596" width="1" height="19" fill="#ef5350"/><rect x="239" y="598" width="3" height="12" fill="#ef5350"/>
<rect x="244" y="584" width="1" height="35" fill="#26a69a"/><rect x="243" y="584" width="3" height="24" fill="#26a69a"/>
<rect x="247" y="575" width="1" height="26" fill="#26a69a"/><rect x="246" y="585" width="3" height="9" fill="#26a69a"/>
<rect x="251" y="578" width="1" height="37" fill="#ef5350"/><rect x="250" y="585" width="3" height="21" fill="#ef5350"/>
<rect x="254" y="604" width="1" height="27" fill="#ef5350"/><rect x="253" y="605" width="3" height="19" fill="#ef5350"/>
<rect x="258" y="630" width="1" height="11" fill="#ef5350"/><rect x="257" y="634" width="3" height="2" fill="#ef5350"/>
<rect x="262" y="622" width="1" height="16" fill="#26a69a"/><rect x="261" y="632" width="3" height="4" fill="#26a69a"/>
<rect x="265" y="620" width="1" height="38" fill="#ef5350"/><rect x="264" y="632" width="3" height="7" fill="#ef5350"/>
<rect x="269" y="629" width="1" height="23" fill="#26a69a"/><rect x="268" y="636" width="3" height="2" fill="#26a69a"/>
<rect x="272" y="634" width="1" height="31" fill="#ef5350"/><rect x="271" y="636" width="3" height="16" fill="#ef5350"/>
<rect x="276" y="650" width="1" height="19" fill="#ef5350"/><rect x="275" y="650" width="3" height="16" fill="#ef5350"/>
<rect x="279" y="654" width="1" height="7" fill="#ef5350"/><rect x="278" y="655" width="3" height="5" fill="#ef5350"/>
<rect x="283" y="650" width="1" height="11" fill="#26a69a"/><rect x="282" y="651" width="3" height="9" fill="#26a69a"/>
<rect x="286" y="642" width="1" height="56" fill="#ef5350"/><rect x="285" y="651" width="3" height="45" fill="#ef5350"/>
<rect x="290" y="660" width="1" height="36" fill="#26a69a"/><rect x="289" y="662" width="3" height="33" fill="#26a69a"/>
<rect x="294" y="638" width="1" height="27" fill="#26a69a"/><rect x="293" y="648" width="3" height="16" fill="#26a69a"/>
<rect x="297" y="646" width="1" height="20" fill="#26a69a"/><rect x="296" y="648" width="3" height="17" fill="#26a69a"/>
<rect x="301" y="655" width="1" height="17" fill="#ef5350"/><rect x="300" y="656" width="3" height="15" fill="#ef5350"/>
<rect x="304" y="641" width="1" height="31" fill="#26a69a"/><rect x="303" y="646" width="3" height="25" fill="#26a69a"/>
<rect x="308" y="625" width="1" height="35" fill="#26a69a"/><rect x="307" y="627" width="3" height="21" fill="#26a69a"/>
<rect x="311" y="623" width="1" height="26" fill="#ef5350"/><rect x="310" y="627" width="3" height="3" fill="#ef5350"/>
<rect x="315" y="611" width="1" height="25" fill="#26a69a"/><rect x="314" y="621" width="3" height="9" fill="#26a69a"/>
<rect x="319" y="612" width="1" height="12" fill="#26a69a"/><rect x="318" y="615" width="3" height="7" fill="#26a69a"/>
<rect x="322" y="614" width="1" height="11" fill="#26a69a"/><rect x="321" y="616" width="3" height="8" fill="#26a69a"/>
<rect x="326" y="612" width="1" height="23" fill="#ef5350"/><rect x="325" y="616" width="3" height="18" fill="#ef5350"/>
<rect x="329" y="621" width="1" height="28" fill="#ef5350"/><rect x="328" y="632" width="3" height="6" fill="#ef5350"/>
<rect x="333" y="610" width="1" height="35" fill="#ef5350"/><rect x="332" y="636" width="3" height="3" fill="#ef5350"/>
<rect x="336" y="601" width="1" height="45" fill="#26a69a"/><rect x="335" y="632" width="3" height="7" fill="#26a69a"/>
<rect x="340" y="631" width="1" height="9" fill="#ef5350"/><rect x="339" y="632" width="3" height="6" fill="#ef5350"/>
<rect x="343" y="638" width="1" height="23" fill="#ef5350"/><rect x="342" y="649" width="3" height="7" fill="#ef5350"/>
<rect x="347" y="648" width="1" height="16" fill="#26a69a"/><rect x="346" y="653" width="3" height="3" fill="#26a69a"/>
<rect x="351" y="648" width="1" height="26" fill="#ef5350"/><rect x="350" y="654" width="3" height="3" fill="#ef5350"/>
<rect x="354" y="620" width="1" height="45" fill="#26a69a"/><rect x="353" y="634" width="3" height="22" fill="#26a69a"/>
<rect x="358" y="626" width="1" height="36" fill="#ef5350"/><rect x="357" y="634" width="3" height="16" fill="#ef5350"/>
<rect x="361" y="634" width="1" height="21" fill="#ef5350"/><rect x="360" y="650" width="3" height="2" fill="#ef5350"/>
<rect x="365" y="626" width="1" height="16" fill="#26a69a"/><rect x="364" y="627" width="3" height="11" fill="#26a69a"/>
<rect x="368" y="620" width="1" height="11" fill="#26a69a"/><rect x="367" y="622" width="3" height="6" fill="#26a69a"/>
<rect x="372" y="617" width="1" height="51" fill="#ef5350"/><rect x="371" y="621" width="3" height="17" fill="#ef5350"/>
<rect x="375" y="629" width="1" height="45" fill="#ef5350"/><rect x="374" y="636" width="3" height="24" fill="#ef5350"/>
<rect x="379" y="654" width="1" height="42" fill="#ef5350"/><rect x="378" y="659" width="3" height="36" fill="#ef5350"/>
<rect x="383" y="688" width="1" height="12" fill="#26a69a"/><rect x="382" y="689" width="3" height="6" fill="#26a69a"/>
<rect x="386" y="671" width="1" height="8" fill="#26a69a"/><rect x="385" y="674" width="3" height="3" fill="#26a69a"/>
<rect x="390" y="660" width="1" height="18" fill="#26a69a"/><rect x="389" y="661" width="3" height="14" fill="#26a69a"/>
<rect x="393" y="635" width="1" height="31" fill="#26a69a"/><rect x="392" y="641" width="3" height="21" fill="#26a69a"/>
<rect x="397" y="635" width="1" height="30" fill="#ef5350"/><rect x="396" y="641" width="3" height="18" fill="#ef5350"/>
<rect x="400" y="646" width="1" height="14" fill="#26a69a"/><rect x="399" y="647" width="3" height="12" fill="#26a69a"/>
<rect x="404" y="641" width="1" height="8" fill="#ef5350"/><rect x="403" y="644" width="3" height="4" fill="#ef5350"/>
<rect x="407" y="650" width="1" height="14" fill="#ef5350"/><rect x="406" y="656" width="3" height="6" fill="#ef5350"/>
<rect x="411" y="655" width="1" height="17" fill="#26a69a"/><rect x="410" y="656" width="3" height="6" fill="#26a69a"/>
<rect x="415" y="618" width="1" height="44" fill="#26a69a"/><rect x="414" y="620" width="3" height="38" fill="#26a69a"/>
<rect x="418" y="613" width="1" height="11" fill="#ef5350"/><rect x="417" y="620" width="3" height="3" fill="#ef5350"/>
<rect x="422" y="614" width="1" height="22" fill="#26a69a"/><rect x="421" y="616" width="3" height="7" fill="#26a69a"/>
<rect x="425" y="613" width="1" height="7" fill="#26a69a"/><rect x="424" y="616" width="3" height="2" fill="#26a69a"/>
<rect x="429" y="617" width="1" height="9" fill="#26a69a"/><rect x="428" y="618" width="3" height="2" fill="#26a69a"/>
<rect x="432" y="604" width="1" height="16" fill="#26a69a"/><rect x="431" y="604" width="3" height="14" fill="#26a69a"/>
<rect x="436" y="602" width="1" height="36" fill="#ef5350"/><rect x="435" y="604" width="3" height="26" fill="#ef5350"/>
<rect x="439" y="581" width="1" height="59" fill="#26a69a"/><rect x="438" y="586" width="3" height="44" fill="#26a69a"/>
<rect x="443" y="585" width="1" height="6" fill="#ef5350"/><rect x="442" y="586" width="3" height="4" fill="#ef5350"/>
<rect x="447" y="572" width="1" height="19" fill="#26a69a"/><rect x="446" y="573" width="3" height="17" fill="#26a69a"/>
<rect x="450" y="560" width="1" height="11" fill="#26a69a"/><rect x="449" y="568" width="3" height="2" fill="#26a69a"/>
<rect x="454" y="564" width="1" height="11" fill="#ef5350"/><rect x="453" y="568" width="3" height="3" fill="#ef5350"/>
<rect x="457" y="514" width="1" height="55" fill="#26a69a"/><rect x="456" y="517" width="3" height="51" fill="#26a69a"/>
<rect x="461" y="496" width="1" height="28" fill="#26a69a"/><rect x="460" y="497" width="3" height="21" fill="#26a69a"/>
<rect x="464" y="493" width="1" height="27" fill="#ef5350"/><rect x="463" y="497" width="3" height="3" fill="#ef5350"/>
<rect x="468" y="493" width="1" height="7" fill="#26a69a"/><rect x="467" y="494" width="3" height="6" fill="#26a69a"/>
<rect x="472" y="491" width="1" height="8" fill="#26a69a"/><rect x="471" y="493" width="3" height="3" fill="#26a69a"/>
<rect x="475" y="489" width="1" height="7" fill="#ef5350"/><rect x="474" y="492" width="3" height="2" fill="#ef5350"/>
<rect x="479" y="493" width="1" height="25" fill="#ef5350"/><rect x="478" y="494" width="3" height="20" fill="#ef5350"/>
<rect x="482" y="485" width="1" height="35" fill="#26a69a"/><rect x="481" y="499" width="3" height="15" fill="#26a69a"/>
<rect x="486" y="498" width="1" height="17" fill="#ef5350"/><rect x="485" y="499" width="3" height="2" fill="#ef5350"/>
<rect x="489" y="500" width="1" height="9" fill="#ef5350"/><rect x="488" y="500" width="3" height="5" fill="#ef5350"/>
<rect x="493" y="502" width="1" height="9" fill="#ef5350"/><rect x="492" y="504" width="3" height="4" fill="#ef5350"/>
<rect x="496" y="502" width="1" height="8" fill="#26a69a"/><rect x="495" y="504" width="3" height="4" fill="#26a69a"/>
<rect x="500" y="491" width="1" height="31" fill="#ef5350"/><rect x="499" y="504" width="3" height="15" fill="#ef5350"/>
<rect x="504" y="512" width="1" height="16" fill="#ef5350"/><rect x="503" y="518" width="3" height="8" fill="#ef5350"/>
<rect x="507" y="524" width="1" height="15" fill="#ef5350"/><rect x="506" y="526" width="3" height="9" fill="#ef5350"/>
<rect x="511" y="524" width="1" height="14" fill="#26a69a"/><rect x="510" y="524" width="3" height="10" fill="#26a69a"/>
<rect x="514" y="526" width="1" height="8" fill="#26a69a"/><rect x="513" y="530" width="3" height="2" fill="#26a69a"/>
<rect x="518" y="528" width="1" height="16" fill="#ef5350"/><rect x="517" y="530" width="3" height="11" fill="#ef5350"/>
<rect x="521" y="519" width="1" height="23" fill="#26a69a"/><rect x="520" y="536" width="3" height="5" fill="#26a69a"/>
<rect x="525" y="530" width="1" height="20" fill="#26a69a"/><rect x="524" y="531" width="3" height="5" fill="#26a69a"/>
<rect x="528" y="516" width="1" height="20" fill="#26a69a"/><rect x="527" y="530" width="3" height="2" fill="#26a69a"/>
<rect x="532" y="530" width="1" height="6" fill="#ef5350"/><rect x="531" y="531" width="3" height="3" fill="#ef5350"/>
<rect x="536" y="531" width="1" height="5" fill="#26a69a"/><rect x="535" y="532" width="3" height="2" fill="#26a69a"/>
<rect x="539" y="530" width="1" height="21" fill="#ef5350"/><rect x="538" y="532" width="3" height="18" fill="#ef5350"/>
<rect x="543" y="533" width="1" height="19" fill="#26a69a"/><rect x="542" y="534" width="3" height="17" fill="#26a69a"/>
<rect x="546" y="483" width="1" height="53" fill="#26a69a"/><rect x="545" y="485" width="3" height="50" fill="#26a69a"/>
<rect x="550" y="484" width="1" height="36" fill="#ef5350"/><rect x="549" y="485" width="3" height="21" fill="#ef5350"/>
<rect x="553" y="495" width="1" height="12" fill="#26a69a"/><rect x="552" y="497" width="3" height="9" fill="#26a69a"/>
<rect x="557" y="502" width="1" height="7" fill="#26a69a"/><rect x="556" y="504" width="3" height="4" fill="#26a69a"/>
<rect x="560" y="496" width="1" height="10" fill="#26a69a"/><rect x="559" y="498" width="3" height="6" fill="#26a69a"/>
<rect x="564" y="465" width="1" height="41" fill="#26a69a"/><rect x="563" y="466" width="3" height="33" fill="#26a69a"/>
<rect x="568" y="455" width="1" height="21" fill="#26a69a"/><rect x="567" y="456" width="3" height="12" fill="#26a69a"/>
<rect x="571" y="445" width="1" height="27" fill="#ef5350"/><rect x="570" y="456" width="3" height="12" fill="#ef5350"/>
<rect x="575" y="466" width="1" height="16" fill="#ef5350"/><rect x="574" y="467" width="3" height="11" fill="#ef5350"/>
<rect x="578" y="480" width="1" height="10" fill="#ef5350"/><rect x="577" y="482" width="3" height="5" fill="#ef5350"/>
<rect x="582" y="478" width="1" height="10" fill="#26a69a"/><rect x="581" y="481" width="3" height="6" fill="#26a69a"/>
<rect x="585" y="464" width="1" height="30" fill="#ef5350"/><rect x="584" y="482" width="3" height="11" fill="#ef5350"/>
<rect x="589" y="474" width="1" height="25" fill="#26a69a"/><rect x="588" y="488" width="3" height="2" fill="#26a69a"/>
<rect x="592" y="454" width="1" height="54" fill="#26a69a"/><rect x="591" y="455" width="3" height="35" fill="#26a69a"/>
<rect x="596" y="448" width="1" height="9" fill="#26a69a"/><rect x="595" y="450" width="3" height="6" fill="#26a69a"/>
<rect x="600" y="460" width="1" height="12" fill="#ef5350"/><rect x="599" y="460" width="3" height="11" fill="#ef5350"/>
<rect x="603" y="468" width="1" height="12" fill="#26a69a"/><rect x="602" y="469" width="3" height="3" fill="#26a69a"/>
<rect x="607" y="444" width="1" height="27" fill="#26a69a"/><rect x="606" y="451" width="3" height="19" fill="#26a69a"/>
<rect x="610" y="450" width="1" height="21" fill="#ef5350"/><rect x="609" y="451" width="3" height="13" fill="#ef5350"/>
<rect x="614" y="440" width="1" height="28" fill="#26a69a"/><rect x="613" y="443" width="3" height="21" fill="#26a69a"/>
<rect x="617" y="440" width="1" height="5" fill="#26a69a"/><rect x="616" y="442" width="3" height="2" fill="#26a69a"/>
<rect x="621" y="441" width="1" height="7" fill="#ef5350"/><rect x="620" y="442" width="3" height="4" fill="#ef5350"/>
<rect x="625" y="442" width="1" height="10" fill="#ef5350"/><rect x="624" y="444" width="3" height="6" fill="#ef5350"/>
<rect x="628" y="439" width="1" height="13" fill="#26a69a"/><rect x="627" y="440" width="3" height="10" fill="#26a69a"/>
<rect x="632" y="390" width="1" height="52" fill="#26a69a"/><rect x="631" y="391" width="3" height="49" fill="#26a69a"/>
<rect x="635" y="371" width="1" height="21" fill="#26a69a"/><rect x="634" y="389" width="3" height="3" fill="#26a69a"/>
<rect x="639" y="380" width="1" height="12" fill="#26a69a"/><rect x="638" y="382" width="3" height="8" fill="#26a69a"/>
<rect x="642" y="376" width="1" height="9" fill="#26a69a"/><rect x="641" y="378" width="3" height="3" fill="#26a69a"/>
<rect x="646" y="365" width="1" height="17" fill="#26a69a"/><rect x="645" y="370" width="3" height="9" fill="#26a69a"/>
<rect x="649" y="350" width="1" height="30" fill="#26a69a"/><rect x="648" y="360" width="3" height="11" fill="#26a69a"/>
<rect x="653" y="348" width="1" height="23" fill="#ef5350"/><rect x="652" y="360" width="3" height="7" fill="#ef5350"/>
<rect x="657" y="358" width="1" height="11" fill="#26a69a"/><rect x="656" y="361" width="3" height="6" fill="#26a69a"/>
<rect x="660" y="359" width="1" height="7" fill="#ef5350"/><rect x="659" y="362" width="3" height="3" fill="#ef5350"/>
<rect x="664" y="357" width="1" height="19" fill="#ef5350"/><rect x="663" y="364" width="3" height="12" fill="#ef5350"/>
<rect x="667" y="365" width="1" height="14" fill="#26a69a"/><rect x="666" y="366" width="3" height="10" fill="#26a69a"/>
<rect x="671" y="353" width="1" height="17" fill="#26a69a"/><rect x="670" y="366" width="3" height="2" fill="#26a69a"/>
<rect x="674" y="355" width="1" height="19" fill="#26a69a"/><rect x="673" y="360" width="3" height="7" fill="#26a69a"/>
<rect x="678" y="358" width="1" height="20" fill="#ef5350"/><rect x="677" y="360" width="3" height="13" fill="#ef5350"/>
<rect x="681" y="360" width="1" height="14" fill="#26a69a"/><rect x="680" y="360" width="3" height="12" fill="#26a69a"/>
<rect x="685" y="360" width="1" height="3" fill="#26a69a"/><rect x="684" y="360" width="3" height="2" fill="#26a69a"/>
<rect x="689" y="356" width="1" height="8" fill="#ef5350"/><rect x="688" y="360" width="3" height="2" fill="#ef5350"/>
<rect x="692" y="330" width="1" height="39" fill="#26a69a"/><rect x="691" y="332" width="3" height="29" fill="#26a69a"/>
<rect x="696" y="331" width="1" height="13" fill="#ef5350"/><rect x="695" y="334" width="3" height="2" fill="#ef5350"/>
<rect x="699" y="327" width="1" height="13" fill="#26a69a"/><rect x="698" y="329" width="3" height="7" fill="#26a69a"/>
<rect x="703" y="326" width="1" height="8" fill="#26a69a"/><rect x="702" y="329" width="3" height="1" fill="#26a69a"/>
<rect x="706" y="330" width="1" height="9" fill="#ef5350"/><rect x="705" y="336" width="3" height="2" fill="#ef5350"/>
<rect x="710" y="334" width="1" height="10" fill="#ef5350"/><rect x="709" y="335" width="3" height="7" fill="#ef5350"/>
<rect x="713" y="329" width="1" height="13" fill="#26a69a"/><rect x="712" y="334" width="3" height="7" fill="#26a69a"/>
<rect x="717" y="332" width="1" height="16" fill="#26a69a"/><rect x="716" y="334" width="3" height="1" fill="#26a69a"/>
<rect x="721" y="326" width="1" height="10" fill="#26a69a"/><rect x="720" y="327" width="3" height="8" fill="#26a69a"/>
<rect x="724" y="320" width="1" height="10" fill="#26a69a"/><rect x="723" y="325" width="3" height="3" fill="#26a69a"/>
<rect x="728" y="324" width="1" height="5" fill="#ef5350"/><rect x="727" y="325" width="3" height="3" fill="#ef5350"/>
<rect x="731" y="324" width="1" height="6" fill="#ef5350"/><rect x="730" y="326" width="3" height="4" fill="#ef5350"/>
<rect x="735" y="326" width="1" height="15" fill="#ef5350"/><rect x="734" y="327" width="3" height="7" fill="#ef5350"/>
<rect x="738" y="332" width="1" height="16" fill="#ef5350"/><rect x="737" y="334" width="3" height="7" fill="#ef5350"/>
<rect x="742" y="336" width="1" height="12" fill="#ef5350"/><rect x="741" y="339" width="3" height="3" fill="#ef5350"/>
<rect x="745" y="337" width="1" height="7" fill="#26a69a"/><rect x="744" y="338" width="3" height="3" fill="#26a69a"/>
<rect x="749" y="331" width="1" height="8" fill="#26a69a"/><rect x="748" y="333" width="3" height="2" fill="#26a69a"/>
<rect x="753" y="332" width="1" height="12" fill="#ef5350"/><rect x="752" y="334" width="3" height="7" fill="#ef5350"/>
<rect x="756" y="320" width="1" height="21" fill="#26a69a"/><rect x="755" y="321" width="3" height="19" fill="#26a69a"/>
<rect x="760" y="317" width="1" height="17" fill="#ef5350"/><rect x="759" y="321" width="3" height="5" fill="#ef5350"/>
<rect x="763" y="318" width="1" height="16" fill="#26a69a"/><rect x="762" y="320" width="3" height="6" fill="#26a69a"/>
<rect x="767" y="319" width="1" height="10" fill="#26a69a"/><rect x="766" y="320" width="3" height="2" fill="#26a69a"/>
<rect x="770" y="322" width="1" height="7" fill="#ef5350"/><rect x="769" y="324" width="3" height="3" fill="#ef5350"/>
<rect x="774" y="320" width="1" height="6" fill="#26a69a"/><rect x="773" y="321" width="3" height="3" fill="#26a69a"/>
<rect x="777" y="318" width="1" height="8" fill="#26a69a"/><rect x="776" y="320" width="3" height="2" fill="#26a69a"/>
<rect x="781" y="311" width="1" height="10" fill="#26a69a"/><rect x="780" y="315" width="3" height="5" fill="#26a69a"/>
<rect x="785" y="311" width="1" height="7" fill="#ef5350"/><rect x="784" y="314" width="3" height="2" fill="#ef5350"/>
<rect x="788" y="312" width="1" height="6" fill="#26a69a"/><rect x="787" y="313" width="3" height="4" fill="#26a69a"/>
<rect x="792" y="310" width="1" height="5" fill="#26a69a"/><rect x="791" y="313" width="3" height="1" fill="#26a69a"/>
<rect x="795" y="312" width="1" height="8" fill="#ef5350"/><rect x="794" y="313" width="3" height="5" fill="#ef5350"/>
<rect x="799" y="300" width="1" height="22" fill="#26a69a"/><rect x="798" y="301" width="3" height="17" fill="#26a69a"/>
<rect x="802" y="300" width="1" height="12" fill="#ef5350"/><rect x="801" y="301" width="3" height="3" fill="#ef5350"/>
<rect x="806" y="297" width="1" height="8" fill="#26a69a"/><rect x="805" y="301" width="3" height="3" fill="#26a69a"/>
<rect x="810" y="301" width="1" height="4" fill="#ef5350"/><rect x="809" y="302" width="3" height="2" fill="#ef5350"/>
<rect x="813" y="304" width="1" height="14" fill="#ef5350"/><rect x="812" y="304" width="3" height="12" fill="#ef5350"/>
<rect x="817" y="312" width="1" height="7" fill="#26a69a"/><rect x="816" y="313" width="3" height="4" fill="#26a69a"/>
<rect x="820" y="298" width="1" height="17" fill="#26a69a"/><rect x="819" y="305" width="3" height="9" fill="#26a69a"/>
<rect x="824" y="301" width="1" height="10" fill="#ef5350"/><rect x="823" y="304" width="3" height="3" fill="#ef5350"/>
<rect x="827" y="302" width="1" height="20" fill="#ef5350"/><rect x="826" y="306" width="3" height="9" fill="#ef5350"/>
<rect x="831" y="312" width="1" height="10" fill="#ef5350"/><rect x="830" y="314" width="3" height="6" fill="#ef5350"/>
<rect x="834" y="318" width="1" height="6" fill="#ef5350"/><rect x="833" y="320" width="3" height="2" fill="#ef5350"/>
<rect x="838" y="319" width="1" height="6" fill="#ef5350"/><rect x="837" y="320" width="3" height="4" fill="#ef5350"/>
<rect x="842" y="320" width="1" height="28" fill="#ef5350"/><rect x="841" y="320" width="3" height="19" fill="#ef5350"/>
<rect x="845" y="334" width="1" height="13" fill="#ef5350"/><rect x="844" y="337" width="3" height="3" fill="#ef5350"/>
<rect x="849" y="324" width="1" height="18" fill="#26a69a"/><rect x="848" y="336" width="3" height="4" fill="#26a69a"/>
<rect x="852" y="330" width="1" height="10" fill="#26a69a"/><rect x="851" y="332" width="3" height="4" fill="#26a69a"/>
<rect x="856" y="326" width="1" height="8" fill="#26a69a"/><rect x="855" y="328" width="3" height="5" fill="#26a69a"/>
<rect x="859" y="324" width="1" height="7" fill="#26a69a"/><rect x="858" y="326" width="3" height="4" fill="#26a69a"/>
<rect x="863" y="294" width="1" height="41" fill="#26a69a"/><rect x="862" y="301" width="3" height="27" fill="#26a69a"/>
<rect x="866" y="290" width="1" height="18" fill="#ef5350"/><rect x="865" y="300" width="3" height="4" fill="#ef5350"/>
<rect x="870" y="292" width="1" height="20" fill="#26a69a"/><rect x="869" y="293" width="3" height="11" fill="#26a69a"/>
<rect x="874" y="292" width="1" height="14" fill="#ef5350"/><rect x="873" y="293" width="3" height="9" fill="#ef5350"/>
<rect x="877" y="296" width="1" height="10" fill="#ef5350"/><rect x="876" y="297" width="3" height="5" fill="#ef5350"/>
<rect x="881" y="290" width="1" height="10" fill="#26a69a"/><rect x="880" y="296" width="3" height="2" fill="#26a69a"/>
<rect x="884" y="291" width="1" height="24" fill="#26a69a"/><rect x="883" y="292" width="3" height="4" fill="#26a69a"/>
<rect x="888" y="282" width="1" height="16" fill="#26a69a"/><rect x="887" y="290" width="3" height="4" fill="#26a69a"/>
<rect x="891" y="286" width="1" height="12" fill="#26a69a"/><rect x="890" y="287" width="3" height="3" fill="#26a69a"/>
<rect x="895" y="276" width="1" height="14" fill="#26a69a"/><rect x="894" y="278" width="3" height="11" fill="#26a69a"/>
<rect x="898" y="262" width="1" height="18" fill="#26a69a"/><rect x="897" y="270" width="3" height="9" fill="#26a69a"/>
<rect x="902" y="268" width="1" height="8" fill="#ef5350"/><rect x="901" y="269" width="3" height="5" fill="#ef5350"/>
<rect x="906" y="252" width="1" height="25" fill="#26a69a"/><rect x="905" y="259" width="3" height="17" fill="#26a69a"/>
<rect x="909" y="258" width="1" height="22" fill="#ef5350"/><rect x="908" y="260" width="3" height="9" fill="#ef5350"/>
<rect x="913" y="242" width="1" height="28" fill="#26a69a"/><rect x="912" y="250" width="3" height="18" fill="#26a69a"/>
<rect x="916" y="241" width="1" height="10" fill="#26a69a"/><rect x="915" y="246" width="3" height="4" fill="#26a69a"/>
<rect x="920" y="249" width="1" height="11" fill="#26a69a"/><rect x="919" y="251" width="3" height="8" fill="#26a69a"/>
<rect x="923" y="254" width="1" height="6" fill="#ef5350"/><rect x="922" y="255" width="3" height="4" fill="#ef5350"/>
<rect x="927" y="246" width="1" height="24" fill="#ef5350"/><rect x="926" y="255" width="3" height="4" fill="#ef5350"/>
<rect x="930" y="249" width="1" height="15" fill="#ef5350"/><rect x="929" y="254" width="3" height="5" fill="#ef5350"/>
<rect x="934" y="246" width="1" height="16" fill="#26a69a"/><rect x="933" y="250" width="3" height="6" fill="#26a69a"/>
<rect x="938" y="244" width="1" height="10" fill="#26a69a"/><rect x="937" y="246" width="3" height="6" fill="#26a69a"/>
<rect x="941" y="252" width="1" height="8" fill="#ef5350"/><rect x="940" y="253" width="3" height="5" fill="#ef5350"/>
<rect x="945" y="254" width="1" height="14" fill="#ef5350"/><rect x="944" y="256" width="3" height="10" fill="#ef5350"/>
<rect x="948" y="239" width="1" height="30" fill="#26a69a"/><rect x="947" y="250" width="3" height="16" fill="#26a69a"/>
<rect x="952" y="229" width="1" height="23" fill="#26a69a"/><rect x="951" y="231" width="3" height="20" fill="#26a69a"/>
<rect x="955" y="212" width="1" height="22" fill="#26a69a"/><rect x="954" y="218" width="3" height="14" fill="#26a69a"/>
<rect x="959" y="214" width="1" height="6" fill="#ef5350"/><rect x="958" y="216" width="3" height="3" fill="#ef5350"/>
<rect x="963" y="202" width="1" height="14" fill="#26a69a"/><rect x="962" y="204" width="3" height="11" fill="#26a69a"/>
<rect x="966" y="201" width="1" height="11" fill="#ef5350"/><rect x="965" y="204" width="3" height="6" fill="#ef5350"/>
<rect x="970" y="199" width="1" height="16" fill="#26a69a"/><rect x="969" y="200" width="3" height="7" fill="#26a69a"/>
<rect x="973" y="184" width="1" height="18" fill="#26a69a"/><rect x="972" y="186" width="3" height="14" fill="#26a69a"/>
<rect x="977" y="175" width="1" height="21" fill="#ef5350"/><rect x="976" y="186" width="3" height="4" fill="#ef5350"/>
<rect x="980" y="188" width="1" height="14" fill="#ef5350"/><rect x="979" y="190" width="3" height="11" fill="#ef5350"/>
<rect x="984" y="200" width="1" height="10" fill="#ef5350"/><rect x="983" y="205" width="3" height="3" fill="#ef5350"/>
<rect x="987" y="202" width="1" height="8" fill="#ef5350"/><rect x="986" y="206" width="3" height="3" fill="#ef5350"/>
<rect x="991" y="192" width="1" height="18" fill="#26a69a"/><rect x="990" y="195" width="3" height="14" fill="#26a69a"/>
<rect x="995" y="192" width="1" height="14" fill="#ef5350"/><rect x="994" y="195" width="3" height="7" fill="#ef5350"/>
<rect x="998" y="192" width="1" height="15" fill="#26a69a"/><rect x="997" y="192" width="3" height="10" fill="#26a69a"/>
<rect x="1002" y="190" width="1" height="4" fill="#26a69a"/><rect x="1001" y="191" width="3" height="2" fill="#26a69a"/>
<rect x="1005" y="188" width="1" height="8" fill="#26a69a"/><rect x="1004" y="190" width="3" height="4" fill="#26a69a"/>
<rect x="1009" y="186" width="1" height="9" fill="#26a69a"/><rect x="1008" y="188" width="3" height="2" fill="#26a69a"/>
<rect x="1012" y="161" width="1" height="31" fill="#26a69a"/><rect x="1011" y="169" width="3" height="20" fill="#26a69a"/>
<rect x="1016" y="150" width="1" height="38" fill="#26a69a"/><rect x="1015" y="154" width="3" height="16" fill="#26a69a"/>
<rect x="1019" y="139" width="1" height="17" fill="#26a69a"/><rect x="1018" y="142" width="3" height="12" fill="#26a69a"/>
<rect x="1023" y="136" width="1" height="8" fill="#ef5350"/><rect x="1022" y="139" width="3" height="4" fill="#ef5350"/>
<rect x="1027" y="130" width="1" height="16" fill="#ef5350"/><rect x="1026" y="136" width="3" height="9" fill="#ef5350"/>
<rect x="1030" y="140" width="1" height="8" fill="#ef5350"/><rect x="1029" y="144" width="3" height="2" fill="#ef5350"/>
<rect x="1034" y="136" width="1" height="14" fill="#26a69a"/><rect x="1033" y="144" width="3" height="2" fill="#26a69a"/>
<rect x="1037" y="127" width="1" height="23" fill="#26a69a"/><rect x="1036" y="130" width="3" height="16" fill="#26a69a"/>
<rect x="1041" y="120" width="1" height="13" fill="#26a69a"/><rect x="1040" y="122" width="3" height="9" fill="#26a69a"/>
<rect x="1044" y="120" width="1" height="5" fill="#ef5350"/><rect x="1043" y="122" width="3" height="2" fill="#ef5350"/>
<rect x="1048" y="117" width="1" height="9" fill="#26a69a"/><rect x="1047" y="119" width="3" height="5" fill="#26a69a"/>
<rect x="1051" y="116" width="1" height="5" fill="#26a69a"/><rect x="1050" y="118" width="3" height="2" fill="#26a69a"/>
<rect x="1055" y="106" width="1" height="26" fill="#ef5350"/><rect x="1054" y="118" width="3" height="13" fill="#ef5350"/>
<rect x="1059" y="112" width="1" height="23" fill="#ef5350"/><rect x="1058" y="124" width="3" height="7" fill="#ef5350"/>
<rect x="1062" y="121" width="1" height="15" fill="#ef5350"/><rect x="1061" y="122" width="3" height="5" fill="#ef5350"/>
<rect x="1066" y="120" width="1" height="8" fill="#26a69a"/><rect x="1065" y="122" width="3" height="4" fill="#26a69a"/>
<rect x="1069" y="118" width="1" height="12" fill="#ef5350"/><rect x="1068" y="118" width="3" height="10" fill="#ef5350"/>
<rect x="1073" y="126" width="1" height="10" fill="#ef5350"/><rect x="1072" y="127" width="3" height="7" fill="#ef5350"/>
<rect x="1076" y="114" width="1" height="24" fill="#26a69a"/><rect x="1075" y="122" width="3" height="12" fill="#26a69a"/>
<rect x="1080" y="115" width="1" height="15" fill="#ef5350"/><rect x="1079" y="122" width="3" height="4" fill="#ef5350"/>
<rect x="1083" y="124" width="1" height="24" fill="#ef5350"/><rect x="1082" y="125" width="3" height="19" fill="#ef5350"/>
<rect x="1087" y="97" width="1" height="48" fill="#26a69a"/><rect x="1086" y="99" width="3" height="45" fill="#26a69a"/>
<rect x="1091" y="80" width="1" height="14" fill="#26a69a"/><rect x="1090" y="82" width="3" height="12" fill="#26a69a"/>
<rect x="1094" y="80" width="1" height="10" fill="#ef5350"/><rect x="1093" y="80" width="3" height="3" fill="#ef5350"/>
<rect x="1098" y="74" width="1" height="36" fill="#ef5350"/><rect x="1097" y="82" width="3" height="8" fill="#ef5350"/>
<rect x="1101" y="88" width="1" height="48" fill="#ef5350"/><rect x="1100" y="90" width="3" height="39" fill="#ef5350"/>
<rect x="1105" y="119" width="1" height="39" fill="#ef5350"/><rect x="1104" y="129" width="3" height="11" fill="#ef5350"/>
<rect x="1108" y="128" width="1" height="13" fill="#26a69a"/><rect x="1107" y="130" width="3" height="10" fill="#26a69a"/>
<rect x="1112" y="122" width="1" height="10" fill="#26a69a"/><rect x="1111" y="124" width="3" height="7" fill="#26a69a"/>
<rect x="1116" y="120" width="1" height="10" fill="#ef5350"/><rect x="1115" y="123" width="3" height="5" fill="#ef5350"/>
<rect x="1119" y="90" width="1" height="40" fill="#26a69a"/><rect x="1118" y="97" width="3" height="31" fill="#26a69a"/>
<rect x="1123" y="96" width="1" height="35" fill="#ef5350"/><rect x="1122" y="97" width="3" height="33" fill="#ef5350"/>
<rect x="1126" y="110" width="1" height="24" fill="#ef5350"/><rect x="1125" y="120" width="3" height="10" fill="#ef5350"/>
<rect x="1130" y="127" width="1" height="14" fill="#ef5350"/><rect x="1129" y="128" width="3" height="6" fill="#ef5350"/>
<rect x="1133" y="126" width="1" height="13" fill="#ef5350"/><rect x="1132" y="128" width="3" height="4" fill="#ef5350"/>
<rect x="1137" y="126" width="1" height="8" fill="#26a69a"/><rect x="1136" y="128" width="3" height="4" fill="#26a69a"/>
<rect x="1140" y="126" width="1" height="19" fill="#ef5350"/><rect x="1139" y="128" width="3" height="12" fill="#ef5350"/>
<rect x="1144" y="137" width="1" height="15" fill="#ef5350"/><rect x="1143" y="142" width="3" height="8" fill="#ef5350"/>
<rect x="1148" y="131" width="1" height="29" fill="#26a69a"/><rect x="1147" y="144" width="3" height="6" fill="#26a69a"/>
<rect x="1151" y="140" width="1" height="7" fill="#26a69a"/><rect x="1150" y="141" width="3" height="5" fill="#26a69a"/>
<rect x="1155" y="120" width="1" height="28" fill="#26a69a"/><rect x="1154" y="141" width="3" height="5" fill="#26a69a"/>
<rect x="1158" y="140" width="1" height="8" fill="#ef5350"/><rect x="1157" y="141" width="3" height="3" fill="#ef5350"/>
<rect x="1162" y="132" width="1" height="18" fill="#26a69a"/><rect x="1161" y="139" width="3" height="5" fill="#26a69a"/>
<rect x="1165" y="131" width="1" height="11" fill="#26a69a"/><rect x="1164" y="133" width="3" height="7" fill="#26a69a"/>
<rect x="1169" y="126" width="1" height="10" fill="#26a69a"/><rect x="1168" y="129" width="3" height="7" fill="#26a69a"/>
<rect x="1172" y="121" width="1" height="20" fill="#26a69a"/><rect x="1171" y="124" width="3" height="6" fill="#26a69a"/>
<rect x="1176" y="120" width="1" height="10" fill="#26a69a"/><rect x="1175" y="122" width="3" height="4" fill="#26a69a"/>
<rect x="1180" y="112" width="1" height="17" fill="#ef5350"/><rect x="1179" y="121" width="3" height="7" fill="#ef5350"/>
<rect x="1183" y="124" width="1" height="31" fill="#ef5350"/><rect x="1182" y="126" width="3" height="22" fill="#ef5350"/>
<rect x="1187" y="127" width="1" height="19" fill="#26a69a"/><rect x="1186" y="141" width="3" height="4" fill="#26a69a"/>
<rect x="1190" y="126" width="1" height="18" fill="#26a69a"/><rect x="1189" y="129" width="3" height="13" fill="#26a69a"/>
<rect x="1194" y="129" width="1" height="49" fill="#ef5350"/><rect x="1193" y="130" width="3" height="45" fill="#ef5350"/>
<rect x="1197" y="162" width="1" height="7" fill="#ef5350"/><rect x="1196" y="164" width="3" height="3" fill="#ef5350"/>
<rect x="1201" y="154" width="1" height="12" fill="#26a69a"/><rect x="1200" y="159" width="3" height="6" fill="#26a69a"/>
<rect x="1204" y="146" width="1" height="22" fill="#ef5350"/><rect x="1203" y="160" width="3" height="7" fill="#ef5350"/>
<rect x="1208" y="155" width="1" height="14" fill="#26a69a"/><rect x="1207" y="157" width="3" height="10" fill="#26a69a"/>
<rect x="1212" y="147" width="1" height="17" fill="#26a69a"/><rect x="1211" y="149" width="3" height="13" fill="#26a69a"/>
<rect x="1215" y="132" width="1" height="20" fill="#26a69a"/><rect x="1214" y="133" width="3" height="18" fill="#26a69a"/>
<rect x="1219" y="130" width="1" height="16" fill="#ef5350"/><rect x="1218" y="138" width="3" height="7" fill="#ef5350"/>
<rect x="1222" y="140" width="1" height="15" fill="#ef5350"/><rect x="1221" y="141" width="3" height="13" fill="#ef5350"/>
<rect x="1226" y="151" width="1" height="17" fill="#ef5350"/><rect x="1225" y="152" width="3" height="5" fill="#ef5350"/>
<rect x="1229" y="142" width="1" height="17" fill="#26a69a"/><rect x="1228" y="146" width="3" height="11" fill="#26a69a"/>
<rect x="1233" y="142" width="1" height="12" fill="#ef5350"/><rect x="1232" y="144" width="3" height="4" fill="#ef5350"/>
<rect x="1236" y="142" width="1" height="18" fill="#ef5350"/><rect x="1235" y="144" width="3" height="6" fill="#ef5350"/>
<rect x="1240" y="126" width="1" height="10" fill="#ef5350"/><rect x="1239" y="127" width="3" height="3" fill="#ef5350"/>
<rect x="1244" y="116" width="1" height="15" fill="#26a69a"/><rect x="1243" y="119" width="3" height="11" fill="#26a69a"/>
<rect x="1247" y="117" width="1" height="33" fill="#ef5350"/><rect x="1246" y="118" width="3" height="20" fill="#ef5350"/>
<rect x="1251" y="125" width="1" height="20" fill="#ef5350"/><rect x="1250" y="137" width="3" height="5" fill="#ef5350"/>
<rect x="1254" y="128" width="1" height="18" fill="#26a69a"/><rect x="1253" y="133" width="3" height="9" fill="#26a69a"/>
<rect x="1258" y="129" width="1" height="7" fill="#26a69a"/><rect x="1257" y="130" width="3" height="4" fill="#26a69a"/>
<rect x="1261" y="119" width="1" height="13" fill="#26a69a"/><rect x="1260" y="120" width="3" height="11" fill="#26a69a"/>
<rect x="1265" y="116" width="1" height="6" fill="#26a69a"/><rect x="1264" y="119" width="3" height="2" fill="#26a69a"/>
<rect x="1269" y="118" width="1" height="36" fill="#ef5350"/><rect x="1268" y="119" width="3" height="33" fill="#ef5350"/>
<rect x="1272" y="148" width="1" height="14" fill="#ef5350"/><rect x="1271" y="150" width="3" height="4" fill="#ef5350"/>
<rect x="1276" y="148" width="1" height="13" fill="#26a69a"/><rect x="1275" y="151" width="3" height="3" fill="#26a69a"/>
<rect x="1279" y="150" width="1" height="10" fill="#ef5350"/><rect x="1278" y="152" width="3" height="6" fill="#ef5350"/>
<rect x="1283" y="154" width="1" height="6" fill="#26a69a"/><rect x="1282" y="154" width="3" height="5" fill="#26a69a"/>
<rect x="1286" y="147" width="1" height="9" fill="#26a69a"/><rect x="1285" y="150" width="3" height="5" fill="#26a69a"/>
<rect x="1290" y="134" width="1" height="20" fill="#26a69a"/><rect x="1289" y="142" width="3" height="10" fill="#26a69a"/>
<rect x="1293" y="134" width="1" height="10" fill="#26a69a"/><rect x="1292" y="136" width="3" height="7" fill="#26a69a"/>
<rect x="1297" y="134" width="1" height="26" fill="#ef5350"/><rect x="1296" y="136" width="3" height="8" fill="#ef5350"/>
<rect x="1301" y="136" width="1" height="12" fill="#26a69a"/><rect x="1300" y="139" width="3" height="3" fill="#26a69a"/>
<rect x="1304" y="132" width="1" height="11" fill="#26a69a"/><rect x="1303" y="134" width="3" height="7" fill="#26a69a"/>
<rect x="1308" y="129" width="1" height="7" fill="#26a69a"/><rect x="1307" y="130" width="3" height="4" fill="#26a69a"/>
<rect x="1311" y="101" width="1" height="49" fill="#ef5350"/><rect x="1310" y="130" width="3" height="14" fill="#ef5350"/>
<rect x="1315" y="141" width="1" height="49" fill="#ef5350"/><rect x="1314" y="142" width="3" height="22" fill="#ef5350"/>
<rect x="1318" y="153" width="1" height="18" fill="#26a69a"/><rect x="1317" y="162" width="3" height="2" fill="#26a69a"/>
<rect x="1322" y="161" width="1" height="19" fill="#ef5350"/><rect x="1321" y="162" width="3" height="9" fill="#ef5350"/>
<rect x="1325" y="170" width="1" height="6" fill="#ef5350"/><rect x="1324" y="171" width="3" height="4" fill="#ef5350"/>
<rect x="1329" y="170" width="1" height="10" fill="#26a69a"/><rect x="1328" y="171" width="3" height="5" fill="#26a69a"/>
<rect x="1333" y="165" width="1" height="45" fill="#ef5350"/><rect x="1332" y="171" width="3" height="29" fill="#ef5350"/>
<rect x="1336" y="192" width="1" height="46" fill="#ef5350"/><rect x="1335" y="199" width="3" height="36" fill="#ef5350"/>
<rect x="1340" y="216" width="1" height="30" fill="#26a69a"/><rect x="1339" y="220" width="3" height="15" fill="#26a69a"/>
<rect x="1343" y="215" width="1" height="16" fill="#ef5350"/><rect x="1342" y="221" width="3" height="9" fill="#ef5350"/>
<rect x="1347" y="226" width="1" height="14" fill="#26a69a"/><rect x="1346" y="229" width="3" height="1" fill="#26a69a"/>
<rect x="1350" y="224" width="1" height="12" fill="#26a69a"/><rect x="1349" y="226" width="3" height="4" fill="#26a69a"/>
<rect x="1354" y="208" width="1" height="22" fill="#26a69a"/><rect x="1353" y="219" width="3" height="7" fill="#26a69a"/></g>
<path d="M0 218.5 H1695" stroke="#f23645" stroke-width="1" stroke-dasharray="1 2" shape-rendering="crispEdges"/>
<path d="M0 219.5 H1695" stroke="#2196f3" stroke-width="1" stroke-dasharray="1 2" shape-rendering="crispEdges"/>
<path d="M1697.5 207 H1762 V231.7 H1697.5 a2.5 2.5 0 0 1 -2.5 -2.5 V209.5 a2.5 2.5 0 0 1 2.5 -2.5Z" fill="#26a69a"/>
<text x="1700.34" y="225.80" font-size="15.9" fill="#fff" font-weight="bold" textLength="53.09" lengthAdjust="spacingAndGlyphs">Euro50</text>
<rect x="1763.5" y="0" width="81.5" height="800" fill="#fff"/>
<rect x="0" y="764.5" width="1845" height="35.5" fill="#fff"/>
<rect x="1763" y="0" width="1" height="800" fill="#e1e2e6"/>
<rect x="0" y="764" width="1845" height="1" fill="#e1e2e6"/>
<rect x="1764" y="740" width="4" height="1" fill="#e1e2e6"/>
<text x="1774.57" y="745.86" font-size="17.0" fill="#131722" font-weight="normal" textLength="60.50" lengthAdjust="spacingAndGlyphs">3950.00</text>
<rect x="1764" y="688" width="4" height="1" fill="#e1e2e6"/>
<text x="1774.83" y="693.86" font-size="17.0" fill="#131722" font-weight="normal" textLength="60.24" lengthAdjust="spacingAndGlyphs">4000.00</text>
<rect x="1764" y="636" width="4" height="1" fill="#e1e2e6"/>
<text x="1774.83" y="641.86" font-size="17.0" fill="#131722" font-weight="normal" textLength="60.24" lengthAdjust="spacingAndGlyphs">4050.00</text>
<rect x="1764" y="585" width="4" height="1" fill="#e1e2e6"/>
<text x="1774.83" y="590.86" font-size="17.0" fill="#131722" font-weight="normal" textLength="60.24" lengthAdjust="spacingAndGlyphs">4100.00</text>
<rect x="1764" y="533" width="4" height="1" fill="#e1e2e6"/>
<text x="1774.83" y="538.86" font-size="17.0" fill="#131722" font-weight="normal" textLength="60.24" lengthAdjust="spacingAndGlyphs">4150.00</text>
<rect x="1764" y="481" width="4" height="1" fill="#e1e2e6"/>
<text x="1774.83" y="486.86" font-size="17.0" fill="#131722" font-weight="normal" textLength="60.24" lengthAdjust="spacingAndGlyphs">4200.00</text>
<rect x="1764" y="430" width="4" height="1" fill="#e1e2e6"/>
<text x="1774.83" y="435.86" font-size="17.0" fill="#131722" font-weight="normal" textLength="60.24" lengthAdjust="spacingAndGlyphs">4250.00</text>
<rect x="1764" y="378" width="4" height="1" fill="#e1e2e6"/>
<text x="1774.83" y="383.86" font-size="17.0" fill="#131722" font-weight="normal" textLength="60.24" lengthAdjust="spacingAndGlyphs">4300.00</text>
<rect x="1764" y="326" width="4" height="1" fill="#e1e2e6"/>
<text x="1774.83" y="331.86" font-size="17.0" fill="#131722" font-weight="normal" textLength="60.24" lengthAdjust="spacingAndGlyphs">4350.00</text>
<rect x="1764" y="274" width="4" height="1" fill="#e1e2e6"/>
<text x="1774.83" y="279.86" font-size="17.0" fill="#131722" font-weight="normal" textLength="60.24" lengthAdjust="spacingAndGlyphs">4400.00</text>
<rect x="1764" y="223" width="4" height="1" fill="#e1e2e6"/>
<text x="1774.83" y="228.86" font-size="17.0" fill="#131722" font-weight="normal" textLength="60.24" lengthAdjust="spacingAndGlyphs">4450.00</text>
<rect x="1764" y="171" width="4" height="1" fill="#e1e2e6"/>
<text x="1774.83" y="176.86" font-size="17.0" fill="#131722" font-weight="normal" textLength="60.24" lengthAdjust="spacingAndGlyphs">4500.00</text>
<rect x="1764" y="119" width="4" height="1" fill="#e1e2e6"/>
<text x="1774.83" y="124.86" font-size="17.0" fill="#131722" font-weight="normal" textLength="60.24" lengthAdjust="spacingAndGlyphs">4550.00</text>
<rect x="1764" y="68" width="4" height="1" fill="#e1e2e6"/>
<text x="1774.83" y="73.86" font-size="17.0" fill="#131722" font-weight="normal" textLength="60.24" lengthAdjust="spacingAndGlyphs">4600.00</text>
<rect x="1764" y="16" width="4" height="1" fill="#e1e2e6"/>
<text x="1774.83" y="21.86" font-size="17.0" fill="#131722" font-weight="normal" textLength="60.24" lengthAdjust="spacingAndGlyphs">4650.00</text>
<rect x="66" y="765" width="1" height="4" fill="#e1e2e6"/>
<text x="61.57" y="787.70" font-size="17.0" fill="#131722" font-weight="normal" textLength="9.03" lengthAdjust="spacingAndGlyphs">9</text>
<rect x="173" y="765" width="1" height="4" fill="#e1e2e6"/>
<text x="163.83" y="787.70" font-size="17.0" fill="#131722" font-weight="normal" textLength="18.06" lengthAdjust="spacingAndGlyphs">16</text>
<rect x="279" y="765" width="1" height="4" fill="#e1e2e6"/>
<text x="270.03" y="787.70" font-size="17.0" fill="#131722" font-weight="normal" textLength="18.06" lengthAdjust="spacingAndGlyphs">23</text>
<rect x="429" y="765" width="1" height="4" fill="#e1e2e6"/>
<text x="414.45" y="787.70" font-size="15.8" fill="#131722" font-weight="normal" textLength="28.10" lengthAdjust="spacingAndGlyphs">Nov</text>
<rect x="536" y="765" width="1" height="4" fill="#e1e2e6"/>
<text x="531.59" y="787.70" font-size="17.0" fill="#131722" font-weight="normal" textLength="9.03" lengthAdjust="spacingAndGlyphs">8</text>
<rect x="642" y="765" width="1" height="4" fill="#e1e2e6"/>
<text x="632.81" y="787.70" font-size="17.0" fill="#131722" font-weight="normal" textLength="18.06" lengthAdjust="spacingAndGlyphs">15</text>
<rect x="749" y="765" width="1" height="4" fill="#e1e2e6"/>
<text x="740.09" y="787.70" font-size="17.0" fill="#131722" font-weight="normal" textLength="18.06" lengthAdjust="spacingAndGlyphs">22</text>
<rect x="898" y="765" width="1" height="4" fill="#e1e2e6"/>
<text x="883.62" y="787.70" font-size="15.8" fill="#131722" font-weight="normal" textLength="28.10" lengthAdjust="spacingAndGlyphs">Déc</text>
<rect x="1005" y="765" width="1" height="4" fill="#e1e2e6"/>
<text x="1000.59" y="787.70" font-size="17.0" fill="#131722" font-weight="normal" textLength="9.03" lengthAdjust="spacingAndGlyphs">8</text>
<rect x="1112" y="765" width="1" height="4" fill="#e1e2e6"/>
<text x="1102.81" y="787.70" font-size="17.0" fill="#131722" font-weight="normal" textLength="18.06" lengthAdjust="spacingAndGlyphs">15</text>
<rect x="1304" y="765" width="1" height="4" fill="#e1e2e6"/>
<text x="1285.82" y="787.70" font-size="17.0" fill="#131722" font-weight="bold" textLength="36.12" lengthAdjust="spacingAndGlyphs">2024</text>
<rect x="1414" y="765" width="1" height="4" fill="#e1e2e6"/>
<text x="1404.79" y="787.70" font-size="17.0" fill="#131722" font-weight="normal" textLength="18.06" lengthAdjust="spacingAndGlyphs">10</text>
<rect x="1521" y="765" width="1" height="4" fill="#e1e2e6"/>
<text x="1511.83" y="787.70" font-size="17.0" fill="#131722" font-weight="normal" textLength="18.06" lengthAdjust="spacingAndGlyphs">18</text>
<rect x="1692" y="765" width="1" height="4" fill="#e1e2e6"/>
<text x="1675.77" y="787.70" font-size="15.8" fill="#131722" font-weight="normal" textLength="31.60" lengthAdjust="spacingAndGlyphs">Févr</text>
<path d="M1763 101.2 H1840.5 a2.5 2.5 0 0 1 2.5 2.5 V123.3 a2.5 2.5 0 0 1 -2.5 2.5 H1763Z" fill="#f44336"/>
<rect x="1764" y="113.0" width="4" height="1" fill="rgba(255,255,255,0.75)"/>
<text x="1775.34" y="120.00" font-size="17.0" fill="#fff" font-weight="bold" textLength="61.48" lengthAdjust="spacingAndGlyphs">4555.80</text>
<path d="M1763 162.2 H1840.5 a2.5 2.5 0 0 1 2.5 2.5 V184.3 a2.5 2.5 0 0 1 -2.5 2.5 H1763Z" fill="#4caf50"/>
<rect x="1764" y="174.0" width="4" height="1" fill="rgba(255,255,255,0.75)"/>
<text x="1775.34" y="181.00" font-size="17.0" fill="#fff" font-weight="bold" textLength="61.48" lengthAdjust="spacingAndGlyphs">4496.80</text>
<path d="M1763 231.7 H1840.5 a2.5 2.5 0 0 1 2.5 2.5 V253.8 a2.5 2.5 0 0 1 -2.5 2.5 H1763Z" fill="#4caf50"/>
<rect x="1764" y="244.0" width="4" height="1" fill="rgba(255,255,255,0.75)"/>
<text x="1775.34" y="250.50" font-size="17.0" fill="#fff" font-weight="bold" textLength="61.52" lengthAdjust="spacingAndGlyphs">4431.97</text>
<path d="M1763 207.2 H1840.5 a2.5 2.5 0 0 1 2.5 2.5 V229.3 a2.5 2.5 0 0 1 -2.5 2.5 H1763Z" fill="#26a69a"/>
<rect x="1764" y="219.0" width="4" height="1" fill="rgba(255,255,255,0.75)"/>
<text x="1775.35" y="226.00" font-size="17.0" fill="#fff" font-weight="bold" textLength="61.30" lengthAdjust="spacingAndGlyphs">4453.28</text>
<path d="M1763 290.2 H1840.5 a2.5 2.5 0 0 1 2.5 2.5 V312.3 a2.5 2.5 0 0 1 -2.5 2.5 H1763Z" fill="#4caf50"/>
<rect x="1764" y="302.0" width="4" height="1" fill="rgba(255,255,255,0.75)"/>
<text x="1775.35" y="309.00" font-size="17.0" fill="#fff" font-weight="bold" textLength="61.39" lengthAdjust="spacingAndGlyphs">4373.63</text>
<path d="M1763 336.2 H1840.5 a2.5 2.5 0 0 1 2.5 2.5 V358.3 a2.5 2.5 0 0 1 -2.5 2.5 H1763Z" fill="#4caf50"/>
<rect x="1764" y="348.0" width="4" height="1" fill="rgba(255,255,255,0.75)"/>
<text x="1775.35" y="355.00" font-size="17.0" fill="#fff" font-weight="bold" textLength="61.39" lengthAdjust="spacingAndGlyphs">4328.56</text>
<path d="M1763 432.2 H1840.5 a2.5 2.5 0 0 1 2.5 2.5 V454.3 a2.5 2.5 0 0 1 -2.5 2.5 H1763Z" fill="#4caf50"/>
<rect x="1764" y="444.0" width="4" height="1" fill="rgba(255,255,255,0.75)"/>
<text x="1775.34" y="451.00" font-size="17.0" fill="#fff" font-weight="bold" textLength="61.48" lengthAdjust="spacingAndGlyphs">4236.12</text>
<circle cx="1805.4" cy="783.5" r="5.3" fill="none" stroke="#131722" stroke-width="1.2"/><line x1="1811.00" y1="783.55" x2="1812.90" y2="783.55" stroke="#131722" stroke-width="1.2"/><line x1="1809.36" y1="787.51" x2="1810.70" y2="788.85" stroke="#131722" stroke-width="1.2"/><line x1="1805.40" y1="789.15" x2="1805.40" y2="791.05" stroke="#131722" stroke-width="1.2"/><line x1="1801.44" y1="787.51" x2="1800.10" y2="788.85" stroke="#131722" stroke-width="1.2"/><line x1="1799.80" y1="783.55" x2="1797.90" y2="783.55" stroke="#131722" stroke-width="1.2"/><line x1="1801.44" y1="779.59" x2="1800.10" y2="778.25" stroke="#131722" stroke-width="1.2"/><line x1="1805.40" y1="777.95" x2="1805.40" y2="776.05" stroke="#131722" stroke-width="1.2"/><line x1="1809.36" y1="779.59" x2="1810.70" y2="778.25" stroke="#131722" stroke-width="1.2"/>
<rect x="2" y="2" width="467" height="23.2" fill="rgba(255,255,255,0.4)"/>
<rect x="2" y="25.2" width="176" height="42" fill="rgba(255,255,255,0.4)"/>
<text x="6.64" y="18.75" font-size="15.9" fill="#131722" font-weight="normal" textLength="49.27" lengthAdjust="spacingAndGlyphs">Euro50</text>
<circle cx="61.8" cy="13.7" r="1" fill="#b2b5be"/>
<text x="67.95" y="18.75" font-size="15.9" fill="#131722" font-weight="normal" textLength="17.41" lengthAdjust="spacingAndGlyphs">4h</text>
<circle cx="109" cy="13.05" r="8.8" fill="rgba(8,153,129,0.2)"/><circle cx="109" cy="13.05" r="4.2" fill="#089981"/>
<text x="133.88" y="18.70" font-size="12.6" fill="#5d606b" font-weight="normal" textLength="8.43" lengthAdjust="spacingAndGlyphs">O</text>
<text x="144.12" y="18.70" font-size="13.6" fill="#26a69a" font-weight="normal" textLength="45.35" lengthAdjust="spacingAndGlyphs">4447.78</text>
<text x="195.16" y="18.70" font-size="12.6" fill="#5d606b" font-weight="normal" textLength="9.07" lengthAdjust="spacingAndGlyphs">H</text>
<text x="204.61" y="18.70" font-size="13.6" fill="#26a69a" font-weight="normal" textLength="46.29" lengthAdjust="spacingAndGlyphs">4464.29</text>
<text x="256.85" y="18.70" font-size="12.6" fill="#5d606b" font-weight="normal" textLength="7.64" lengthAdjust="spacingAndGlyphs">B</text>
<text x="264.92" y="18.70" font-size="13.6" fill="#26a69a" font-weight="normal" textLength="45.10" lengthAdjust="spacingAndGlyphs">4444.21</text>
<text x="316.44" y="18.70" font-size="12.6" fill="#5d606b" font-weight="normal" textLength="8.11" lengthAdjust="spacingAndGlyphs">C</text>
<text x="325.11" y="18.70" font-size="13.6" fill="#26a69a" font-weight="normal" textLength="45.96" lengthAdjust="spacingAndGlyphs">4453.28</text>
<text x="377.48" y="18.70" font-size="13.6" fill="#26a69a" font-weight="normal" textLength="85.31" lengthAdjust="spacingAndGlyphs">+5.50 (+0.12%)</text>
<rect x="6.75" y="29.6" width="60.65" height="36.5" rx="3.5" fill="#fff" stroke="#f23645"/>
<text x="13.71" y="53.00" font-size="13.5" fill="#f23645" font-weight="normal" textLength="45.85" lengthAdjust="spacingAndGlyphs">4453.28</text>
<text x="79.19" y="39.85" font-size="10.8" fill="#6a6d78" font-weight="normal" textLength="21.09" lengthAdjust="spacingAndGlyphs">1.31</text>
<rect x="72.25" y="45" width="35.25" height="21.6" rx="3.5" fill="#f8f9fd"/>
<text x="79.37" y="59.60" font-size="12.8" fill="#131722" font-weight="normal" textLength="21.12" lengthAdjust="spacingAndGlyphs">200</text>
<rect x="112.6" y="29.6" width="60.65" height="36.5" rx="3.5" fill="#fff" stroke="#26a69a"/>
<text x="119.96" y="53.00" font-size="13.5" fill="#26a69a" font-weight="normal" textLength="45.89" lengthAdjust="spacingAndGlyphs">4454.59</text>
<text x="6.67" y="87.80" font-size="13.0" fill="#434651" font-weight="normal" textLength="53.01" lengthAdjust="spacingAndGlyphs">Ichimoku</text>
<text x="63.17" y="87.80" font-size="13.6" fill="#5d606b" font-weight="normal" textLength="6.25" lengthAdjust="spacingAndGlyphs">9</text>
<text x="73.81" y="87.80" font-size="13.6" fill="#5d606b" font-weight="normal" textLength="13.23" lengthAdjust="spacingAndGlyphs">26</text>
<text x="91.63" y="87.80" font-size="13.6" fill="#5d606b" font-weight="normal" textLength="13.09" lengthAdjust="spacingAndGlyphs">52</text>
<text x="109.29" y="87.80" font-size="13.6" fill="#5d606b" font-weight="normal" textLength="13.56" lengthAdjust="spacingAndGlyphs">26</text>
<text x="130.82" y="87.80" font-size="13.6" fill="#2196f3" font-weight="normal" textLength="45.62" lengthAdjust="spacingAndGlyphs">4471.85</text>
<text x="182.52" y="87.80" font-size="13.6" fill="#b71c1c" font-weight="normal" textLength="45.75" lengthAdjust="spacingAndGlyphs">4498.07</text>
<text x="234.22" y="87.80" font-size="13.6" fill="#43a047" font-weight="normal" textLength="45.65" lengthAdjust="spacingAndGlyphs">4453.28</text>
<text x="285.92" y="87.80" font-size="13.6" fill="#a5d6a7" font-weight="normal" textLength="45.65" lengthAdjust="spacingAndGlyphs">4484.96</text>
<text x="337.62" y="87.80" font-size="13.6" fill="#ef9a9a" font-weight="normal" textLength="45.75" lengthAdjust="spacingAndGlyphs">4498.07</text>
</svg></body></html>
